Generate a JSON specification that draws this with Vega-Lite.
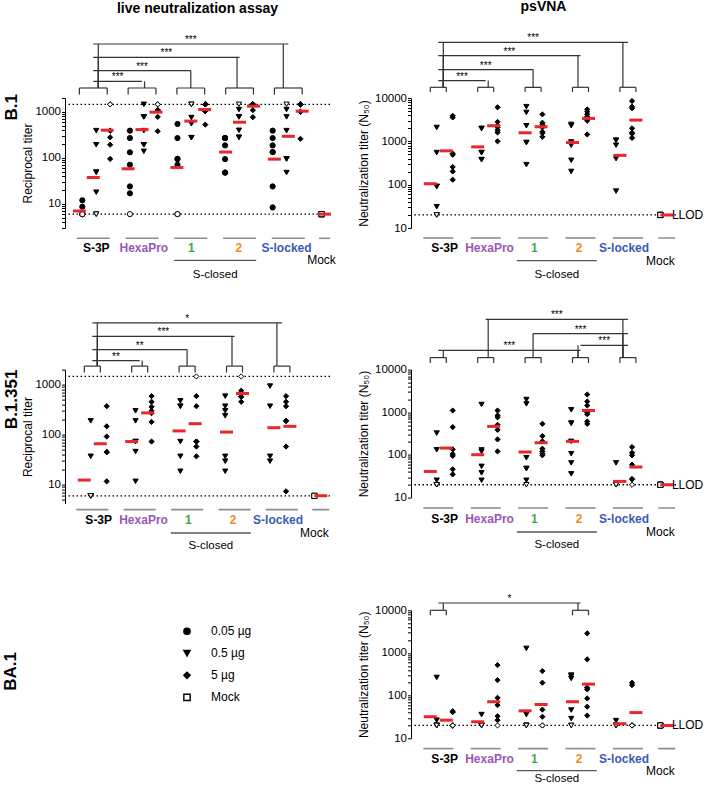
{
"$schema": "https://vega.github.io/schema/vega-lite/v6.json",
"padding": {"left": 2, "top": 0, "right": 0, "bottom": 0},
"config": {"font": "Liberation Sans", "view": {"stroke": null}},
"datasets": {
"g5": [{"g":"S-3P"},{"g":"HexaPro"},{"g":"1"},{"g":"2"},{"g":"S-locked"}],
"g2": [{"g":"S-3P"},{"g":"2"}],
"mk": [{"g":"Mock"}],
"c_b1": [{"a":0,"b":1,"l":1,"s":"***"},{"a":0,"b":2,"l":2,"s":"***"},{"a":0,"b":3,"l":3,"s":"***"},{"a":0,"b":4,"l":4,"s":"***"}],
"c_b3l": [{"a":0,"b":1,"l":1,"s":"**"},{"a":0,"b":2,"l":2,"s":"**"},{"a":0,"b":3,"l":3,"s":"***"},{"a":0,"b":4,"l":4,"s":"*"}],
"c_b3p": [{"a":0,"b":3,"l":1,"s":"***"},{"a":3,"b":4,"l":2,"s":"***"},{"a":2,"b":4,"l":3,"s":"***"},{"a":1,"b":4,"l":4,"s":"***"}],
"c_ba1": [{"a":0,"b":3,"l":1,"s":"*"}],
"sc": [{"a":2,"b":3,"s":"S-closed"}],
"b1lm": [{"g":"S-3P","d":"0.05 µg","v":7},{"g":"S-3P","d":"0.5 µg","v":37.5},{"g":"S-3P","d":"5 µg","v":400},{"g":"HexaPro","d":"0.05 µg","v":58},{"g":"HexaPro","d":"0.5 µg","v":411},{"g":"HexaPro","d":"5 µg","v":985},{"g":"1","d":"0.05 µg","v":62},{"g":"1","d":"0.5 µg","v":630},{"g":"1","d":"5 µg","v":1123},{"g":"2","d":"0.05 µg","v":134},{"g":"2","d":"0.5 µg","v":595},{"g":"2","d":"5 µg","v":1330},{"g":"S-locked","d":"0.05 µg","v":94},{"g":"S-locked","d":"0.5 µg","v":294},{"g":"S-locked","d":"5 µg","v":1035},{"g":"Mock","d":"Mock","v":6}],
"b1pm": [{"g":"S-3P","d":"0.5 µg","v":105},{"g":"S-3P","d":"5 µg","v":603},{"g":"HexaPro","d":"0.5 µg","v":745},{"g":"HexaPro","d":"5 µg","v":2290},{"g":"1","d":"0.5 µg","v":1575},{"g":"1","d":"5 µg","v":2170},{"g":"2","d":"0.5 µg","v":937},{"g":"2","d":"5 µg","v":3380},{"g":"S-locked","d":"0.5 µg","v":475},{"g":"S-locked","d":"5 µg","v":3090},{"g":"Mock","d":"Mock","v":20}],
"b3lm": [{"g":"S-3P","d":"0.5 µg","v":12.4},{"g":"S-3P","d":"5 µg","v":66},{"g":"HexaPro","d":"0.5 µg","v":73},{"g":"HexaPro","d":"5 µg","v":273},{"g":"1","d":"0.5 µg","v":119},{"g":"1","d":"5 µg","v":166},{"g":"2","d":"0.5 µg","v":113},{"g":"2","d":"5 µg","v":668},{"g":"S-locked","d":"0.5 µg","v":138},{"g":"S-locked","d":"5 µg","v":147},{"g":"Mock","d":"Mock","v":6}],
"b3pm": [{"g":"S-3P","d":"0.5 µg","v":41},{"g":"S-3P","d":"5 µg","v":145},{"g":"HexaPro","d":"0.5 µg","v":101},{"g":"HexaPro","d":"5 µg","v":466},{"g":"1","d":"0.5 µg","v":117},{"g":"1","d":"5 µg","v":193},{"g":"2","d":"0.5 µg","v":208},{"g":"2","d":"5 µg","v":1100},{"g":"S-locked","d":"0.5 µg","v":24},{"g":"S-locked","d":"5 µg","v":52},{"g":"Mock","d":"Mock","v":20}],
"ba1m": [{"g":"S-3P","d":"0.5 µg","v":32},{"g":"S-3P","d":"5 µg","v":26.6},{"g":"HexaPro","d":"0.5 µg","v":24.4},{"g":"HexaPro","d":"5 µg","v":72},{"g":"1","d":"0.5 µg","v":44},{"g":"1","d":"5 µg","v":62},{"g":"2","d":"0.5 µg","v":72},{"g":"2","d":"5 µg","v":186},{"g":"S-locked","d":"0.5 µg","v":22},{"g":"S-locked","d":"5 µg","v":40},{"g":"Mock","d":"Mock","v":20}],
"b1l": [
{"g":"S-3P","d":"0.05 µg","v":12},{"g":"S-3P","d":"0.05 µg","v":8.7},{"g":"S-3P","d":"0.05 µg","v":6,"c":1},{"g":"S-3P","d":"0.05 µg","v":6,"c":1},{"g":"S-3P","d":"0.05 µg","v":6,"c":1},{"g":"S-3P","d":"0.05 µg","v":6,"c":1},{"g":"S-3P","d":"0.05 µg","v":6,"c":1},
{"g":"S-3P","d":"0.5 µg","v":391},{"g":"S-3P","d":"0.5 µg","v":193},{"g":"S-3P","d":"0.5 µg","v":49},{"g":"S-3P","d":"0.5 µg","v":49},{"g":"S-3P","d":"0.5 µg","v":18},{"g":"S-3P","d":"0.5 µg","v":6,"c":1},{"g":"S-3P","d":"0.5 µg","v":6,"c":1},
{"g":"S-3P","d":"5 µg","v":1458,"c":1},{"g":"S-3P","d":"5 µg","v":1458,"c":1},{"g":"S-3P","d":"5 µg","v":391},{"g":"S-3P","d":"5 µg","v":391},{"g":"S-3P","d":"5 µg","v":280},{"g":"S-3P","d":"5 µg","v":193},{"g":"S-3P","d":"5 µg","v":95},
{"g":"HexaPro","d":"0.05 µg","v":391},{"g":"HexaPro","d":"0.05 µg","v":270},{"g":"HexaPro","d":"0.05 µg","v":132},{"g":"HexaPro","d":"0.05 µg","v":71},{"g":"HexaPro","d":"0.05 µg","v":24},{"g":"HexaPro","d":"0.05 µg","v":17},{"g":"HexaPro","d":"0.05 µg","v":6,"c":1},
{"g":"HexaPro","d":"0.5 µg","v":1458},{"g":"HexaPro","d":"0.5 µg","v":778},{"g":"HexaPro","d":"0.5 µg","v":778},{"g":"HexaPro","d":"0.5 µg","v":391},{"g":"HexaPro","d":"0.5 µg","v":193},{"g":"HexaPro","d":"0.5 µg","v":193},{"g":"HexaPro","d":"0.5 µg","v":139},
{"g":"HexaPro","d":"5 µg","v":1458,"c":1},{"g":"HexaPro","d":"5 µg","v":1458,"c":1},{"g":"HexaPro","d":"5 µg","v":1093},{"g":"HexaPro","d":"5 µg","v":1093},{"g":"HexaPro","d":"5 µg","v":1093},{"g":"HexaPro","d":"5 µg","v":778},{"g":"HexaPro","d":"5 µg","v":379},
{"g":"1","d":"0.05 µg","v":547},{"g":"1","d":"0.05 µg","v":270},{"g":"1","d":"0.05 µg","v":95},{"g":"1","d":"0.05 µg","v":95},{"g":"1","d":"0.05 µg","v":71},{"g":"1","d":"0.05 µg","v":6,"c":1},{"g":"1","d":"0.05 µg","v":6,"c":1},
{"g":"1","d":"0.5 µg","v":1458,"c":1},{"g":"1","d":"0.5 µg","v":1458,"c":1},{"g":"1","d":"0.5 µg","v":752},{"g":"1","d":"0.5 µg","v":556},{"g":"1","d":"0.5 µg","v":556},{"g":"1","d":"0.5 µg","v":275},{"g":"1","d":"0.5 µg","v":275},
{"g":"1","d":"5 µg","v":1458,"c":1},{"g":"1","d":"5 µg","v":1458,"c":1},{"g":"1","d":"5 µg","v":1458},{"g":"1","d":"5 µg","v":1458},{"g":"1","d":"5 µg","v":1035},{"g":"1","d":"5 µg","v":1035},{"g":"1","d":"5 µg","v":528},
{"g":"2","d":"0.05 µg","v":270},{"g":"2","d":"0.05 µg","v":270},{"g":"2","d":"0.05 µg","v":270},{"g":"2","d":"0.05 µg","v":187},{"g":"2","d":"0.05 µg","v":94},{"g":"2","d":"0.05 µg","v":48},{"g":"2","d":"0.05 µg","v":48},
{"g":"2","d":"0.5 µg","v":1458,"c":1},{"g":"2","d":"0.5 µg","v":1123},{"g":"2","d":"0.5 µg","v":778},{"g":"2","d":"0.5 µg","v":778},{"g":"2","d":"0.5 µg","v":398},{"g":"2","d":"0.5 µg","v":280},{"g":"2","d":"0.5 µg","v":280},
{"g":"2","d":"5 µg","v":1458,"c":1},{"g":"2","d":"5 µg","v":1458,"c":1},{"g":"2","d":"5 µg","v":1458},{"g":"2","d":"5 µg","v":1458},{"g":"2","d":"5 µg","v":1458},{"g":"2","d":"5 µg","v":1089},{"g":"2","d":"5 µg","v":766},
{"g":"S-locked","d":"0.05 µg","v":391},{"g":"S-locked","d":"0.05 µg","v":270},{"g":"S-locked","d":"0.05 µg","v":187},{"g":"S-locked","d":"0.05 µg","v":134},{"g":"S-locked","d":"0.05 µg","v":134},{"g":"S-locked","d":"0.05 µg","v":24},{"g":"S-locked","d":"0.05 µg","v":8.4},
{"g":"S-locked","d":"0.5 µg","v":1458,"c":1},{"g":"S-locked","d":"0.5 µg","v":1123},{"g":"S-locked","d":"0.5 µg","v":778},{"g":"S-locked","d":"0.5 µg","v":391},{"g":"S-locked","d":"0.5 µg","v":95},{"g":"S-locked","d":"0.5 µg","v":95},{"g":"S-locked","d":"0.5 µg","v":48},
{"g":"S-locked","d":"5 µg","v":1458,"c":1},{"g":"S-locked","d":"5 µg","v":1458,"c":1},{"g":"S-locked","d":"5 µg","v":1458},{"g":"S-locked","d":"5 µg","v":1458},{"g":"S-locked","d":"5 µg","v":1000},{"g":"S-locked","d":"5 µg","v":1000},{"g":"S-locked","d":"5 µg","v":260},
{"g":"Mock","d":"Mock","v":6,"c":1},{"g":"Mock","d":"Mock","v":6,"c":1},{"g":"Mock","d":"Mock","v":6,"c":1},{"g":"Mock","d":"Mock","v":6,"c":1}],
"b1p": [
{"g":"S-3P","d":"0.5 µg","v":2090},{"g":"S-3P","d":"0.5 µg","v":550},{"g":"S-3P","d":"0.5 µg","v":91},{"g":"S-3P","d":"0.5 µg","v":91},{"g":"S-3P","d":"0.5 µg","v":31},{"g":"S-3P","d":"0.5 µg","v":20,"c":1},{"g":"S-3P","d":"0.5 µg","v":20,"c":1},
{"g":"S-3P","d":"5 µg","v":3890},{"g":"S-3P","d":"5 µg","v":3560},{"g":"S-3P","d":"5 µg","v":521},{"g":"S-3P","d":"5 µg","v":490},{"g":"S-3P","d":"5 µg","v":256},{"g":"S-3P","d":"5 µg","v":202},{"g":"S-3P","d":"5 µg","v":130},
{"g":"HexaPro","d":"0.5 µg","v":1980},{"g":"HexaPro","d":"0.5 µg","v":1980},{"g":"HexaPro","d":"0.5 µg","v":550},{"g":"HexaPro","d":"0.5 µg","v":550},{"g":"HexaPro","d":"0.5 µg","v":378},{"g":"HexaPro","d":"0.5 µg","v":378},
{"g":"HexaPro","d":"5 µg","v":6100},{"g":"HexaPro","d":"5 µg","v":2800},{"g":"HexaPro","d":"5 µg","v":2300},{"g":"HexaPro","d":"5 µg","v":2100},{"g":"HexaPro","d":"5 µg","v":1800},{"g":"HexaPro","d":"5 µg","v":1600},{"g":"HexaPro","d":"5 µg","v":1000},
{"g":"1","d":"0.5 µg","v":6310},{"g":"1","d":"0.5 µg","v":4650},{"g":"1","d":"0.5 µg","v":2290},{"g":"1","d":"0.5 µg","v":937},{"g":"1","d":"0.5 µg","v":937},{"g":"1","d":"0.5 µg","v":290},
{"g":"1","d":"5 µg","v":4190},{"g":"1","d":"5 µg","v":2690},{"g":"1","d":"5 µg","v":2400},{"g":"1","d":"5 µg","v":2100},{"g":"1","d":"5 µg","v":1660},{"g":"1","d":"5 µg","v":1550},{"g":"1","d":"5 µg","v":1270},
{"g":"2","d":"0.5 µg","v":2460},{"g":"2","d":"0.5 µg","v":2300},{"g":"2","d":"0.5 µg","v":970},{"g":"2","d":"0.5 µg","v":813},{"g":"2","d":"0.5 µg","v":365},{"g":"2","d":"0.5 µg","v":202},
{"g":"2","d":"5 µg","v":5470},{"g":"2","d":"5 µg","v":4830},{"g":"2","d":"5 µg","v":4200},{"g":"2","d":"5 µg","v":3700},{"g":"2","d":"5 µg","v":3200},{"g":"2","d":"5 µg","v":2990},{"g":"2","d":"5 µg","v":1440},
{"g":"S-locked","d":"0.5 µg","v":1060},{"g":"S-locked","d":"0.5 µg","v":1060},{"g":"S-locked","d":"0.5 µg","v":813},{"g":"S-locked","d":"0.5 µg","v":399},{"g":"S-locked","d":"0.5 µg","v":71},
{"g":"S-locked","d":"5 µg","v":8500},{"g":"S-locked","d":"5 µg","v":6300},{"g":"S-locked","d":"5 µg","v":5800},{"g":"S-locked","d":"5 µg","v":2000},{"g":"S-locked","d":"5 µg","v":1600},{"g":"S-locked","d":"5 µg","v":1500},{"g":"S-locked","d":"5 µg","v":1200},
{"g":"Mock","d":"Mock","v":20,"c":1},{"g":"Mock","d":"Mock","v":20,"c":1},{"g":"Mock","d":"Mock","v":20,"c":1},{"g":"Mock","d":"Mock","v":20,"c":1}],
"b3l": [
{"g":"S-3P","d":"0.5 µg","v":189},{"g":"S-3P","d":"0.5 µg","v":37},{"g":"S-3P","d":"0.5 µg","v":6,"c":1},{"g":"S-3P","d":"0.5 µg","v":6,"c":1},{"g":"S-3P","d":"0.5 µg","v":6,"c":1},{"g":"S-3P","d":"0.5 µg","v":6,"c":1},{"g":"S-3P","d":"0.5 µg","v":6,"c":1},
{"g":"S-3P","d":"5 µg","v":371},{"g":"S-3P","d":"5 µg","v":147},{"g":"S-3P","d":"5 µg","v":92},{"g":"S-3P","d":"5 µg","v":45},{"g":"S-3P","d":"5 µg","v":45},{"g":"S-3P","d":"5 µg","v":45},{"g":"S-3P","d":"5 µg","v":11.7},
{"g":"HexaPro","d":"0.5 µg","v":300},{"g":"HexaPro","d":"0.5 µg","v":189},{"g":"HexaPro","d":"0.5 µg","v":73},{"g":"HexaPro","d":"0.5 µg","v":73},{"g":"HexaPro","d":"0.5 µg","v":46},{"g":"HexaPro","d":"0.5 µg","v":11.7},
{"g":"HexaPro","d":"5 µg","v":590},{"g":"HexaPro","d":"5 µg","v":455},{"g":"HexaPro","d":"5 µg","v":361},{"g":"HexaPro","d":"5 µg","v":300},{"g":"HexaPro","d":"5 µg","v":270},{"g":"HexaPro","d":"5 µg","v":180},{"g":"HexaPro","d":"5 µg","v":73},
{"g":"1","d":"0.5 µg","v":476},{"g":"1","d":"0.5 µg","v":371},{"g":"1","d":"0.5 µg","v":371},{"g":"1","d":"0.5 µg","v":73},{"g":"1","d":"0.5 µg","v":37},{"g":"1","d":"0.5 µg","v":18.6},
{"g":"1","d":"5 µg","v":1458,"c":1},{"g":"1","d":"5 µg","v":590},{"g":"1","d":"5 µg","v":371},{"g":"1","d":"5 µg","v":73},{"g":"1","d":"5 µg","v":73},{"g":"1","d":"5 µg","v":58},{"g":"1","d":"5 µg","v":37},
{"g":"2","d":"0.5 µg","v":590},{"g":"2","d":"0.5 µg","v":371},{"g":"2","d":"0.5 µg","v":300},{"g":"2","d":"0.5 µg","v":238},{"g":"2","d":"0.5 µg","v":37},{"g":"2","d":"0.5 µg","v":29.6},{"g":"2","d":"0.5 µg","v":18.6},
{"g":"2","d":"5 µg","v":1458,"c":1},{"g":"2","d":"5 µg","v":757},{"g":"2","d":"5 µg","v":668},{"g":"2","d":"5 µg","v":668},{"g":"2","d":"5 µg","v":573},{"g":"2","d":"5 µg","v":573},{"g":"2","d":"5 µg","v":455},
{"g":"S-locked","d":"0.5 µg","v":937},{"g":"S-locked","d":"0.5 µg","v":371},{"g":"S-locked","d":"0.5 µg","v":37},{"g":"S-locked","d":"0.5 µg","v":29.6},
{"g":"S-locked","d":"5 µg","v":590},{"g":"S-locked","d":"5 µg","v":455},{"g":"S-locked","d":"5 µg","v":371},{"g":"S-locked","d":"5 µg","v":189},{"g":"S-locked","d":"5 µg","v":189},{"g":"S-locked","d":"5 µg","v":58},{"g":"S-locked","d":"5 µg","v":7.4},
{"g":"Mock","d":"Mock","v":6,"c":1},{"g":"Mock","d":"Mock","v":6,"c":1}],
"b3p": [
{"g":"S-3P","d":"0.5 µg","v":325},{"g":"S-3P","d":"0.5 µg","v":132},{"g":"S-3P","d":"0.5 µg","v":25.5},{"g":"S-3P","d":"0.5 µg","v":20,"c":1},{"g":"S-3P","d":"0.5 µg","v":20,"c":1},{"g":"S-3P","d":"0.5 µg","v":20,"c":1},{"g":"S-3P","d":"0.5 µg","v":20,"c":1},
{"g":"S-3P","d":"5 µg","v":1100},{"g":"S-3P","d":"5 µg","v":449},{"g":"S-3P","d":"5 µg","v":135},{"g":"S-3P","d":"5 µg","v":105},{"g":"S-3P","d":"5 µg","v":95},{"g":"S-3P","d":"5 µg","v":46},{"g":"S-3P","d":"5 µg","v":35},
{"g":"HexaPro","d":"0.5 µg","v":1520},{"g":"HexaPro","d":"0.5 µg","v":131},{"g":"HexaPro","d":"0.5 µg","v":121},{"g":"HexaPro","d":"0.5 µg","v":54},{"g":"HexaPro","d":"0.5 µg","v":38},{"g":"HexaPro","d":"0.5 µg","v":25.5},
{"g":"HexaPro","d":"5 µg","v":1100},{"g":"HexaPro","d":"5 µg","v":841},{"g":"HexaPro","d":"5 µg","v":760},{"g":"HexaPro","d":"5 µg","v":508},{"g":"HexaPro","d":"5 µg","v":388},{"g":"HexaPro","d":"5 µg","v":231},{"g":"HexaPro","d":"5 µg","v":121},
{"g":"1","d":"0.5 µg","v":1990},{"g":"1","d":"0.5 µg","v":1570},{"g":"1","d":"0.5 µg","v":86},{"g":"1","d":"0.5 µg","v":48},{"g":"1","d":"0.5 µg","v":48},{"g":"1","d":"0.5 µg","v":25.5},{"g":"1","d":"0.5 µg","v":20,"c":1},
{"g":"1","d":"5 µg","v":535},{"g":"1","d":"5 µg","v":277},{"g":"1","d":"5 µg","v":208},{"g":"1","d":"5 µg","v":140},{"g":"1","d":"5 µg","v":121},{"g":"1","d":"5 µg","v":107},{"g":"1","d":"5 µg","v":98},
{"g":"2","d":"0.5 µg","v":1140},{"g":"2","d":"0.5 µg","v":556},{"g":"2","d":"0.5 µg","v":556},{"g":"2","d":"0.5 µg","v":208},{"g":"2","d":"0.5 µg","v":107},{"g":"2","d":"0.5 µg","v":65},{"g":"2","d":"0.5 µg","v":36},
{"g":"2","d":"5 µg","v":2610},{"g":"2","d":"5 µg","v":1790},{"g":"2","d":"5 µg","v":1440},{"g":"2","d":"5 µg","v":1000},{"g":"2","d":"5 µg","v":900},{"g":"2","d":"5 µg","v":610},{"g":"2","d":"5 µg","v":535},
{"g":"S-locked","d":"0.5 µg","v":65},{"g":"S-locked","d":"0.5 µg","v":22},{"g":"S-locked","d":"0.5 µg","v":20,"c":1},{"g":"S-locked","d":"0.5 µg","v":20,"c":1},{"g":"S-locked","d":"0.5 µg","v":20,"c":1},{"g":"S-locked","d":"0.5 µg","v":20,"c":1},
{"g":"S-locked","d":"5 µg","v":153},{"g":"S-locked","d":"5 µg","v":112},{"g":"S-locked","d":"5 µg","v":98},{"g":"S-locked","d":"5 µg","v":59},{"g":"S-locked","d":"5 µg","v":27},{"g":"S-locked","d":"5 µg","v":27},{"g":"S-locked","d":"5 µg","v":20,"c":1},
{"g":"Mock","d":"Mock","v":20,"c":1},{"g":"Mock","d":"Mock","v":20,"c":1},{"g":"Mock","d":"Mock","v":20,"c":1},{"g":"Mock","d":"Mock","v":20,"c":1}],
"ba1": [
{"g":"S-3P","d":"0.5 µg","v":267},{"g":"S-3P","d":"0.5 µg","v":26.6},{"g":"S-3P","d":"0.5 µg","v":20,"c":1},{"g":"S-3P","d":"0.5 µg","v":20,"c":1},{"g":"S-3P","d":"0.5 µg","v":20,"c":1},{"g":"S-3P","d":"0.5 µg","v":20,"c":1},{"g":"S-3P","d":"0.5 µg","v":20,"c":1},
{"g":"S-3P","d":"5 µg","v":43},{"g":"S-3P","d":"5 µg","v":41},{"g":"S-3P","d":"5 µg","v":20,"c":1},{"g":"S-3P","d":"5 µg","v":20,"c":1},{"g":"S-3P","d":"5 µg","v":20,"c":1},{"g":"S-3P","d":"5 µg","v":20,"c":1},{"g":"S-3P","d":"5 µg","v":20,"c":1},
{"g":"HexaPro","d":"0.5 µg","v":36},{"g":"HexaPro","d":"0.5 µg","v":20,"c":1},{"g":"HexaPro","d":"0.5 µg","v":20,"c":1},{"g":"HexaPro","d":"0.5 µg","v":20,"c":1},{"g":"HexaPro","d":"0.5 µg","v":20,"c":1},{"g":"HexaPro","d":"0.5 µg","v":20,"c":1},
{"g":"HexaPro","d":"5 µg","v":520},{"g":"HexaPro","d":"5 µg","v":231},{"g":"HexaPro","d":"5 µg","v":89},{"g":"HexaPro","d":"5 µg","v":60},{"g":"HexaPro","d":"5 µg","v":33},{"g":"HexaPro","d":"5 µg","v":26.6},{"g":"HexaPro","d":"5 µg","v":20,"c":1},
{"g":"1","d":"0.5 µg","v":1280},{"g":"1","d":"0.5 µg","v":36},{"g":"1","d":"0.5 µg","v":20,"c":1},{"g":"1","d":"0.5 µg","v":20,"c":1},{"g":"1","d":"0.5 µg","v":20,"c":1},{"g":"1","d":"0.5 µg","v":20,"c":1},
{"g":"1","d":"5 µg","v":376},{"g":"1","d":"5 µg","v":201},{"g":"1","d":"5 µg","v":47},{"g":"1","d":"5 µg","v":32},{"g":"1","d":"5 µg","v":20,"c":1},{"g":"1","d":"5 µg","v":20,"c":1},
{"g":"2","d":"0.5 µg","v":303},{"g":"2","d":"0.5 µg","v":290},{"g":"2","d":"0.5 µg","v":253},{"g":"2","d":"0.5 µg","v":46},{"g":"2","d":"0.5 µg","v":29},{"g":"2","d":"0.5 µg","v":20,"c":1},{"g":"2","d":"0.5 µg","v":20,"c":1},
{"g":"2","d":"5 µg","v":2880},{"g":"2","d":"5 µg","v":708},{"g":"2","d":"5 µg","v":153},{"g":"2","d":"5 µg","v":153},{"g":"2","d":"5 µg","v":140},{"g":"2","d":"5 µg","v":86},{"g":"2","d":"5 µg","v":55},{"g":"2","d":"5 µg","v":34},
{"g":"S-locked","d":"0.5 µg","v":26},{"g":"S-locked","d":"0.5 µg","v":20,"c":1},{"g":"S-locked","d":"0.5 µg","v":20,"c":1},{"g":"S-locked","d":"0.5 µg","v":20,"c":1},{"g":"S-locked","d":"0.5 µg","v":20,"c":1},
{"g":"S-locked","d":"5 µg","v":201},{"g":"S-locked","d":"5 µg","v":177},{"g":"S-locked","d":"5 µg","v":20,"c":1},{"g":"S-locked","d":"5 µg","v":20,"c":1},{"g":"S-locked","d":"5 µg","v":20,"c":1},{"g":"S-locked","d":"5 µg","v":20,"c":1},{"g":"S-locked","d":"5 µg","v":20,"c":1},
{"g":"Mock","d":"Mock","v":20,"c":1},{"g":"Mock","d":"Mock","v":20,"c":1},{"g":"Mock","d":"Mock","v":20,"c":1},{"g":"Mock","d":"Mock","v":20,"c":1}]
},
"bounds": "flush",
"spacing": 271.6,
"vconcat": [
{
"title": {"text": "B.1", "orient": "left", "anchor": "end", "frame": "group", "fontSize": 17, "fontWeight": "bold", "offset": 1, "dx": 4},
"bounds": "flush", "spacing": 81,
"hconcat": [
{
"width": 265, "height": 130,
"title": {"text": "live neutralization assay", "fontSize": 14, "fontWeight": "bold", "offset": 19},
"resolve": {"scale": {"x": "independent", "y": "independent"}},
"layer": [
{"data": {"values": [{}]}, "mark": {"type": "rule", "strokeDash": [1.5, 2.5], "strokeWidth": 1.3, "color": "black"}, "encoding": {"y": {"datum": 1458, "type": "quantitative", "scale": {"type": "log", "domain": [3, 2000], "nice": false}, "axis": null}}},
{"data": {"values": [{}]}, "mark": {"type": "rule", "strokeDash": [1.5, 2.5], "strokeWidth": 1.3, "color": "black"}, "encoding": {"y": {"datum": 6, "type": "quantitative", "scale": {"type": "log", "domain": [3, 2000], "nice": false}, "axis": null}}},
{"data": {"name": "b1l"}, "transform": [{"filter": "datum.d === '0.05 µg'"}], "mark": {"type": "point", "filled": true, "stroke": "black", "strokeWidth": 1, "size": 27, "opacity": 1, "xOffset": -13.9},
 "encoding": {"x": {"field": "g", "type": "nominal", "scale": {"domain": ["S-3P","HexaPro","1","2","S-locked","Mock"], "range": [7.45, 292.9], "paddingInner": 0.145, "paddingOuter": 0}, "axis": null},
  "y": {"field": "v", "type": "quantitative", "scale": {"type": "log", "domain": [3, 2000], "nice": false}, "axis": {"orient": "left", "title": "Reciprocal titer", "values": [3,4,5,6,7,8,9,10,20,30,40,50,60,70,80,90,100,200,300,400,500,600,700,800,900,1000,2000], "format": "d", "labelExpr": "indexof([10,100,1000,10000], datum.value) >= 0 ? datum.label : ''", "tickSize": 3.5, "grid": false, "labelFlush": false, "labelOverlap": false, "domainColor": "black", "tickColor": "black", "labelColor": "black", "titleColor": "black", "labelFontSize": 11.5, "titleFontSize": 12, "titleFontWeight": "normal", "labelPadding": 1, "titlePadding": 0}},
  "shape": {"field": "d", "type": "nominal", "scale": {"domain": ["0.05 µg","0.5 µg","5 µg","Mock"], "range": ["circle","triangle-down","diamond","square"]}, "legend": null},
  "fill": {"condition": {"test": "datum.c", "value": "white"}, "value": "black"}}},
{"data": {"name": "b1l"}, "transform": [{"filter": "datum.d === '0.5 µg'"}], "mark": {"type": "point", "filled": true, "stroke": "black", "strokeWidth": 1, "size": 27, "opacity": 1},
 "encoding": {"x": {"field": "g", "type": "nominal", "scale": {"domain": ["S-3P","HexaPro","1","2","S-locked","Mock"], "range": [7.45, 292.9], "paddingInner": 0.145, "paddingOuter": 0}, "axis": null},
  "y": {"field": "v", "type": "quantitative", "scale": {"type": "log", "domain": [3, 2000], "nice": false}, "axis": null},
  "shape": {"field": "d", "type": "nominal", "scale": {"domain": ["0.05 µg","0.5 µg","5 µg","Mock"], "range": ["circle","triangle-down","diamond","square"]}, "legend": null},
  "fill": {"condition": {"test": "datum.c", "value": "white"}, "value": "black"}}},
{"data": {"name": "b1l"}, "transform": [{"filter": "datum.d === '5 µg'"}], "mark": {"type": "point", "filled": true, "stroke": "black", "strokeWidth": 1, "size": 27, "opacity": 1, "xOffset": 13.9},
 "encoding": {"x": {"field": "g", "type": "nominal", "scale": {"domain": ["S-3P","HexaPro","1","2","S-locked","Mock"], "range": [7.45, 292.9], "paddingInner": 0.145, "paddingOuter": 0}, "axis": null},
  "y": {"field": "v", "type": "quantitative", "scale": {"type": "log", "domain": [3, 2000], "nice": false}, "axis": null},
  "shape": {"field": "d", "type": "nominal", "scale": {"domain": ["0.05 µg","0.5 µg","5 µg","Mock"], "range": ["circle","triangle-down","diamond","square"]}, "legend": null},
  "fill": {"condition": {"test": "datum.c", "value": "white"}, "value": "black"}}},
{"data": {"name": "b1l"}, "transform": [{"filter": "datum.g === 'Mock'"}], "mark": {"type": "point", "filled": true, "stroke": "black", "strokeWidth": 1, "size": 27, "opacity": 1, "xOffset": -12.6},
 "encoding": {"x": {"field": "g", "type": "nominal", "scale": {"domain": ["S-3P","HexaPro","1","2","S-locked","Mock"], "range": [7.45, 292.9], "paddingInner": 0.145, "paddingOuter": 0}, "axis": null},
  "y": {"field": "v", "type": "quantitative", "scale": {"type": "log", "domain": [3, 2000], "nice": false}, "axis": null},
  "shape": {"field": "d", "type": "nominal", "scale": {"domain": ["0.05 µg","0.5 µg","5 µg","Mock"], "range": ["circle","triangle-down","diamond","square"]}, "legend": null},
  "fill": {"value": "white"}}},
{"data": {"name": "b1lm"}, "transform": [{"filter": "datum.d === '0.05 µg'"}], "mark": {"type": "tick", "orient": "horizontal", "color": "#e8262b", "thickness": 3, "size": 13, "opacity": 1, "xOffset": -13.9},
 "encoding": {"x": {"field": "g", "type": "nominal", "scale": {"domain": ["S-3P","HexaPro","1","2","S-locked","Mock"], "range": [7.45, 292.9], "paddingInner": 0.145, "paddingOuter": 0}, "axis": null},
  "y": {"field": "v", "type": "quantitative", "scale": {"type": "log", "domain": [3, 2000], "nice": false}, "axis": null}}},
{"data": {"name": "b1lm"}, "transform": [{"filter": "datum.d === '0.5 µg'"}], "mark": {"type": "tick", "orient": "horizontal", "color": "#e8262b", "thickness": 3, "size": 13, "opacity": 1},
 "encoding": {"x": {"field": "g", "type": "nominal", "scale": {"domain": ["S-3P","HexaPro","1","2","S-locked","Mock"], "range": [7.45, 292.9], "paddingInner": 0.145, "paddingOuter": 0}, "axis": null},
  "y": {"field": "v", "type": "quantitative", "scale": {"type": "log", "domain": [3, 2000], "nice": false}, "axis": null}}},
{"data": {"name": "b1lm"}, "transform": [{"filter": "datum.d === '5 µg'"}], "mark": {"type": "tick", "orient": "horizontal", "color": "#e8262b", "thickness": 3, "size": 13, "opacity": 1, "xOffset": 13.9},
 "encoding": {"x": {"field": "g", "type": "nominal", "scale": {"domain": ["S-3P","HexaPro","1","2","S-locked","Mock"], "range": [7.45, 292.9], "paddingInner": 0.145, "paddingOuter": 0}, "axis": null},
  "y": {"field": "v", "type": "quantitative", "scale": {"type": "log", "domain": [3, 2000], "nice": false}, "axis": null}}},
{"data": {"name": "b1lm"}, "transform": [{"filter": "datum.g === 'Mock'"}], "mark": {"type": "tick", "orient": "horizontal", "color": "#e8262b", "thickness": 3, "size": 13, "opacity": 1, "xOffset": -12.6},
 "encoding": {"x": {"field": "g", "type": "nominal", "scale": {"domain": ["S-3P","HexaPro","1","2","S-locked","Mock"], "range": [7.45, 292.9], "paddingInner": 0.145, "paddingOuter": 0}, "axis": null},
  "y": {"field": "v", "type": "quantitative", "scale": {"type": "log", "domain": [3, 2000], "nice": false}, "axis": null}}},
{"data": {"name": "g5"}, "mark": {"type": "tick", "orient": "horizontal", "color": "#333", "thickness": 1.2, "size": 27.8, "opacity": 1},
 "encoding": {"x": {"field": "g", "type": "nominal", "scale": {"domain": ["S-3P","HexaPro","1","2","S-locked","Mock"], "range": [7.45, 292.9], "paddingInner": 0.145, "paddingOuter": 0}, "axis": null},
  "y": {"datum": 0, "type": "quantitative", "scale": {"domain": [-14,-13,-12,-11,-1,0,1,2,3,4], "range": [177.3,162.3,150.3,140.3,-3.4,-10,-16.7,-27.4,-40.7,-54], "nice": false, "zero": true}, "axis": null}}},
{"data": {"name": "g5"}, "mark": {"type": "tick", "orient": "vertical", "color": "#333", "thickness": 1.2, "size": 6.6, "opacity": 1, "xOffset": -13.9},
 "encoding": {"x": {"field": "g", "type": "nominal", "scale": {"domain": ["S-3P","HexaPro","1","2","S-locked","Mock"], "range": [7.45, 292.9], "paddingInner": 0.145, "paddingOuter": 0}, "axis": null},
  "y": {"datum": -0.5, "type": "quantitative", "scale": {"domain": [-14,-13,-12,-11,-1,0,1,2,3,4], "range": [177.3,162.3,150.3,140.3,-3.4,-10,-16.7,-27.4,-40.7,-54], "nice": false, "zero": true}, "axis": null}}},
{"data": {"name": "g5"}, "mark": {"type": "tick", "orient": "vertical", "color": "#333", "thickness": 1.2, "size": 6.6, "opacity": 1, "xOffset": 13.9},
 "encoding": {"x": {"field": "g", "type": "nominal", "scale": {"domain": ["S-3P","HexaPro","1","2","S-locked","Mock"], "range": [7.45, 292.9], "paddingInner": 0.145, "paddingOuter": 0}, "axis": null},
  "y": {"datum": -0.5, "type": "quantitative", "scale": {"domain": [-14,-13,-12,-11,-1,0,1,2,3,4], "range": [177.3,162.3,150.3,140.3,-3.4,-10,-16.7,-27.4,-40.7,-54], "nice": false, "zero": true}, "axis": null}}},
{"data": {"name": "g5"}, "mark": {"type": "tick", "orient": "horizontal", "color": "#8c8c8c", "thickness": 1.6, "size": 33, "opacity": 1},
 "encoding": {"x": {"field": "g", "type": "nominal", "scale": {"domain": ["S-3P","HexaPro","1","2","S-locked","Mock"], "range": [7.45, 292.9], "paddingInner": 0.145, "paddingOuter": 0}, "axis": null},
  "y": {"datum": -11, "type": "quantitative", "scale": {"domain": [-14,-13,-12,-11,-1,0,1,2,3,4], "range": [177.3,162.3,150.3,140.3,-3.4,-10,-16.7,-27.4,-40.7,-54], "nice": false, "zero": true}, "axis": null}}},
{"data": {"name": "mk"}, "mark": {"type": "tick", "orient": "horizontal", "color": "#8c8c8c", "thickness": 1.6, "size": 11, "opacity": 1, "xOffset": -12.6},
 "encoding": {"x": {"field": "g", "type": "nominal", "scale": {"domain": ["S-3P","HexaPro","1","2","S-locked","Mock"], "range": [7.45, 292.9], "paddingInner": 0.145, "paddingOuter": 0}, "axis": null},
  "y": {"datum": -11, "type": "quantitative", "scale": {"domain": [-14,-13,-12,-11,-1,0,1,2,3,4], "range": [177.3,162.3,150.3,140.3,-3.4,-10,-16.7,-27.4,-40.7,-54], "nice": false, "zero": true}, "axis": null}}},
{"data": {"name": "g5"}, "mark": {"type": "text", "fontSize": 12, "fontWeight": "bold", "baseline": "middle"},
 "encoding": {"x": {"field": "g", "type": "nominal", "scale": {"domain": ["S-3P","HexaPro","1","2","S-locked","Mock"], "range": [7.45, 292.9], "paddingInner": 0.145, "paddingOuter": 0}, "axis": null},
  "y": {"datum": -12, "type": "quantitative", "scale": {"domain": [-14,-13,-12,-11,-1,0,1,2,3,4], "range": [177.3,162.3,150.3,140.3,-3.4,-10,-16.7,-27.4,-40.7,-54], "nice": false, "zero": true}, "axis": null},
  "text": {"field": "g"},
  "color": {"field": "g", "type": "nominal", "scale": {"domain": ["S-3P","HexaPro","1","2","S-locked"], "range": ["#000000","#9d57b4","#3aa84a","#f28a21","#3b5bb5"]}, "legend": null}}},
{"data": {"name": "mk"}, "mark": {"type": "text", "fontSize": 12, "baseline": "middle", "color": "black", "xOffset": -12.6},
 "encoding": {"x": {"field": "g", "type": "nominal", "scale": {"domain": ["S-3P","HexaPro","1","2","S-locked","Mock"], "range": [7.45, 292.9], "paddingInner": 0.145, "paddingOuter": 0}, "axis": null},
  "y": {"datum": -13, "type": "quantitative", "scale": {"domain": [-14,-13,-12,-11,-1,0,1,2,3,4], "range": [177.3,162.3,150.3,140.3,-3.4,-10,-16.7,-27.4,-40.7,-54], "nice": false, "zero": true}, "axis": null},
  "text": {"field": "g"}}},
{"data": {"name": "c_b1"}, "mark": {"type": "rule", "color": "#333", "strokeWidth": 1.2},
 "encoding": {"x": {"field": "a", "type": "quantitative", "scale": {"domain": [0, 4], "range": [28.3, 223.3], "nice": false, "zero": false}, "axis": null}, "x2": {"field": "b"},
  "y": {"field": "l", "type": "quantitative", "scale": {"domain": [-14,-13,-12,-11,-1,0,1,2,3,4], "range": [177.3,162.3,150.3,140.3,-3.4,-10,-16.7,-27.4,-40.7,-54], "nice": false, "zero": true}, "axis": null}}},
{"data": {"name": "c_b1"}, "transform": [{"fold": ["a","b"], "as": ["k","gi"]}], "mark": {"type": "bar", "color": "#333", "size": 1.2},
 "encoding": {"x": {"field": "gi", "type": "quantitative", "scale": {"domain": [0, 4], "range": [28.3, 223.3], "nice": false, "zero": false}, "axis": null},
  "y": {"field": "l", "type": "quantitative", "stack": null, "scale": {"domain": [-14,-13,-12,-11,-1,0,1,2,3,4], "range": [177.3,162.3,150.3,140.3,-3.4,-10,-16.7,-27.4,-40.7,-54], "nice": false, "zero": true}, "axis": null}}},
{"data": {"name": "c_b1"}, "transform": [{"fold": ["a","b"], "as": ["k","gi"]}, {"aggregate": [{"op": "mean", "field": "gi", "as": "m"}], "groupby": ["l","s"]}], "mark": {"type": "text", "fontSize": 10, "baseline": "alphabetic", "dy": -1, "color": "black"},
 "encoding": {"x": {"field": "m", "type": "quantitative", "scale": {"domain": [0, 4], "range": [28.3, 223.3], "nice": false, "zero": false}, "axis": null},
  "y": {"field": "l", "type": "quantitative", "scale": {"domain": [-14,-13,-12,-11,-1,0,1,2,3,4], "range": [177.3,162.3,150.3,140.3,-3.4,-10,-16.7,-27.4,-40.7,-54], "nice": false, "zero": true}, "axis": null}, "text": {"field": "s"}}},
{"data": {"name": "sc"}, "transform": [{"fold": ["a","b"], "as": ["k","gi"]}, {"aggregate": [{"op": "mean", "field": "gi", "as": "m"}], "groupby": ["s"]}], "mark": {"type": "tick", "orient": "horizontal", "size": 82, "thickness": 1.3, "color": "#555", "opacity": 1},
 "encoding": {"x": {"field": "m", "type": "quantitative", "scale": {"domain": [0, 4], "range": [28.3, 223.3], "nice": false, "zero": false}, "axis": null},
  "y": {"datum": -13, "type": "quantitative", "scale": {"domain": [-14,-13,-12,-11,-1,0,1,2,3,4], "range": [177.3,162.3,150.3,140.3,-3.4,-10,-16.7,-27.4,-40.7,-54], "nice": false, "zero": true}, "axis": null}}},
{"data": {"name": "sc"}, "transform": [{"fold": ["a","b"], "as": ["k","gi"]}, {"aggregate": [{"op": "mean", "field": "gi", "as": "m"}], "groupby": ["s"]}], "mark": {"type": "text", "fontSize": 11.5, "baseline": "middle", "color": "black"},
 "encoding": {"x": {"field": "m", "type": "quantitative", "scale": {"domain": [0, 4], "range": [28.3, 223.3], "nice": false, "zero": false}, "axis": null},
  "y": {"datum": -14, "type": "quantitative", "scale": {"domain": [-14,-13,-12,-11,-1,0,1,2,3,4], "range": [177.3,162.3,150.3,140.3,-3.4,-10,-16.7,-27.4,-40.7,-54], "nice": false, "zero": true}, "axis": null}, "text": {"field": "s"}}}
]
},
{
"width": 265, "height": 130,
"title": {"text": "psVNA", "fontSize": 14, "fontWeight": "bold", "offset": 19},
"resolve": {"scale": {"x": "independent", "y": "independent"}},
"layer": [
{"data": {"values": [{}]}, "mark": {"type": "rule", "strokeDash": [1.5, 2.5], "strokeWidth": 1.3, "color": "black"}, "encoding": {"y": {"datum": 20, "type": "quantitative", "scale": {"type": "log", "domain": [10, 10000], "nice": false}, "axis": null}}},
{"data": {"name": "b1p"}, "transform": [{"filter": "datum.d === '0.5 µg'"}], "mark": {"type": "point", "filled": true, "stroke": "black", "strokeWidth": 1, "size": 27, "opacity": 1, "xOffset": -8},
 "encoding": {"x": {"field": "g", "type": "nominal", "scale": {"domain": ["S-3P","HexaPro","1","2","S-locked","Mock"], "range": [11.3, 280.3], "paddingInner": 0.325, "paddingOuter": 0}, "axis": null},
  "y": {"field": "v", "type": "quantitative", "scale": {"type": "log", "domain": [10, 10000], "nice": false}, "axis": {"orient": "left", "title": "Neutralization titer (N₅₀)", "values": [10,20,30,40,50,60,70,80,90,100,200,300,400,500,600,700,800,900,1000,2000,3000,4000,5000,6000,7000,8000,9000,10000], "format": "d", "labelExpr": "indexof([10,100,1000,10000], datum.value) >= 0 ? datum.label : ''", "tickSize": 3.5, "grid": false, "labelFlush": false, "labelOverlap": false, "domainColor": "black", "tickColor": "black", "labelColor": "black", "titleColor": "black", "labelFontSize": 11.5, "titleFontSize": 12, "titleFontWeight": "normal", "labelPadding": 1, "titlePadding": 4}},
  "shape": {"field": "d", "type": "nominal", "scale": {"domain": ["0.05 µg","0.5 µg","5 µg","Mock"], "range": ["circle","triangle-down","diamond","square"]}, "legend": null},
  "fill": {"condition": {"test": "datum.c", "value": "white"}, "value": "black"}}},
{"data": {"name": "b1p"}, "transform": [{"filter": "datum.d === '5 µg'"}], "mark": {"type": "point", "filled": true, "stroke": "black", "strokeWidth": 1, "size": 27, "opacity": 1, "xOffset": 8},
 "encoding": {"x": {"field": "g", "type": "nominal", "scale": {"domain": ["S-3P","HexaPro","1","2","S-locked","Mock"], "range": [11.3, 280.3], "paddingInner": 0.325, "paddingOuter": 0}, "axis": null},
  "y": {"field": "v", "type": "quantitative", "scale": {"type": "log", "domain": [10, 10000], "nice": false}, "axis": null},
  "shape": {"field": "d", "type": "nominal", "scale": {"domain": ["0.05 µg","0.5 µg","5 µg","Mock"], "range": ["circle","triangle-down","diamond","square"]}, "legend": null},
  "fill": {"condition": {"test": "datum.c", "value": "white"}, "value": "black"}}},
{"data": {"name": "b1p"}, "transform": [{"filter": "datum.g === 'Mock'"}], "mark": {"type": "point", "filled": true, "stroke": "black", "strokeWidth": 1, "size": 27, "opacity": 1, "xOffset": -8.5},
 "encoding": {"x": {"field": "g", "type": "nominal", "scale": {"domain": ["S-3P","HexaPro","1","2","S-locked","Mock"], "range": [11.3, 280.3], "paddingInner": 0.325, "paddingOuter": 0}, "axis": null},
  "y": {"field": "v", "type": "quantitative", "scale": {"type": "log", "domain": [10, 10000], "nice": false}, "axis": null},
  "shape": {"field": "d", "type": "nominal", "scale": {"domain": ["0.05 µg","0.5 µg","5 µg","Mock"], "range": ["circle","triangle-down","diamond","square"]}, "legend": null},
  "fill": {"value": "white"}}},
{"data": {"name": "b1pm"}, "transform": [{"filter": "datum.d === '0.5 µg'"}], "mark": {"type": "tick", "orient": "horizontal", "color": "#e8262b", "thickness": 3, "size": 13, "opacity": 1, "xOffset": -8},
 "encoding": {"x": {"field": "g", "type": "nominal", "scale": {"domain": ["S-3P","HexaPro","1","2","S-locked","Mock"], "range": [11.3, 280.3], "paddingInner": 0.325, "paddingOuter": 0}, "axis": null},
  "y": {"field": "v", "type": "quantitative", "scale": {"type": "log", "domain": [10, 10000], "nice": false}, "axis": null}}},
{"data": {"name": "b1pm"}, "transform": [{"filter": "datum.d === '5 µg'"}], "mark": {"type": "tick", "orient": "horizontal", "color": "#e8262b", "thickness": 3, "size": 13, "opacity": 1, "xOffset": 8},
 "encoding": {"x": {"field": "g", "type": "nominal", "scale": {"domain": ["S-3P","HexaPro","1","2","S-locked","Mock"], "range": [11.3, 280.3], "paddingInner": 0.325, "paddingOuter": 0}, "axis": null},
  "y": {"field": "v", "type": "quantitative", "scale": {"type": "log", "domain": [10, 10000], "nice": false}, "axis": null}}},
{"data": {"name": "b1pm"}, "transform": [{"filter": "datum.g === 'Mock'"}], "mark": {"type": "tick", "orient": "horizontal", "color": "#e8262b", "thickness": 3, "size": 13, "opacity": 1, "xOffset": -8.5},
 "encoding": {"x": {"field": "g", "type": "nominal", "scale": {"domain": ["S-3P","HexaPro","1","2","S-locked","Mock"], "range": [11.3, 280.3], "paddingInner": 0.325, "paddingOuter": 0}, "axis": null},
  "y": {"field": "v", "type": "quantitative", "scale": {"type": "log", "domain": [10, 10000], "nice": false}, "axis": null}}},
{"data": {"name": "mk"}, "mark": {"type": "text", "align": "left", "baseline": "middle", "fontSize": 12, "dx": 3, "color": "black"},
 "encoding": {"x": {"field": "g", "type": "nominal", "scale": {"domain": ["S-3P","HexaPro","1","2","S-locked","Mock"], "range": [11.3, 280.3], "paddingInner": 0.325, "paddingOuter": 0}, "axis": null},
  "y": {"datum": 20, "type": "quantitative", "scale": {"type": "log", "domain": [10, 10000], "nice": false}, "axis": null}, "text": {"value": "LLOD"}}},
{"data": {"name": "g5"}, "mark": {"type": "tick", "orient": "horizontal", "color": "#333", "thickness": 1.2, "size": 16, "opacity": 1},
 "encoding": {"x": {"field": "g", "type": "nominal", "scale": {"domain": ["S-3P","HexaPro","1","2","S-locked","Mock"], "range": [11.3, 280.3], "paddingInner": 0.325, "paddingOuter": 0}, "axis": null},
  "y": {"datum": 0, "type": "quantitative", "scale": {"domain": [-14,-13,-12,-11,-1,0,1,2,3,4], "range": [177.3,162.6,150,140,-6,-10.7,-17.4,-28.4,-42.4,-55.7], "nice": false, "zero": true}, "axis": null}}},
{"data": {"name": "g5"}, "mark": {"type": "tick", "orient": "vertical", "color": "#333", "thickness": 1.2, "size": 4.7, "opacity": 1, "xOffset": -8},
 "encoding": {"x": {"field": "g", "type": "nominal", "scale": {"domain": ["S-3P","HexaPro","1","2","S-locked","Mock"], "range": [11.3, 280.3], "paddingInner": 0.325, "paddingOuter": 0}, "axis": null},
  "y": {"datum": -0.5, "type": "quantitative", "scale": {"domain": [-14,-13,-12,-11,-1,0,1,2,3,4], "range": [177.3,162.6,150,140,-6,-10.7,-17.4,-28.4,-42.4,-55.7], "nice": false, "zero": true}, "axis": null}}},
{"data": {"name": "g5"}, "mark": {"type": "tick", "orient": "vertical", "color": "#333", "thickness": 1.2, "size": 4.7, "opacity": 1, "xOffset": 8},
 "encoding": {"x": {"field": "g", "type": "nominal", "scale": {"domain": ["S-3P","HexaPro","1","2","S-locked","Mock"], "range": [11.3, 280.3], "paddingInner": 0.325, "paddingOuter": 0}, "axis": null},
  "y": {"datum": -0.5, "type": "quantitative", "scale": {"domain": [-14,-13,-12,-11,-1,0,1,2,3,4], "range": [177.3,162.6,150,140,-6,-10.7,-17.4,-28.4,-42.4,-55.7], "nice": false, "zero": true}, "axis": null}}},
{"data": {"name": "g5"}, "mark": {"type": "tick", "orient": "horizontal", "color": "#8c8c8c", "thickness": 1.6, "size": 30, "opacity": 1},
 "encoding": {"x": {"field": "g", "type": "nominal", "scale": {"domain": ["S-3P","HexaPro","1","2","S-locked","Mock"], "range": [11.3, 280.3], "paddingInner": 0.325, "paddingOuter": 0}, "axis": null},
  "y": {"datum": -11, "type": "quantitative", "scale": {"domain": [-14,-13,-12,-11,-1,0,1,2,3,4], "range": [177.3,162.6,150,140,-6,-10.7,-17.4,-28.4,-42.4,-55.7], "nice": false, "zero": true}, "axis": null}}},
{"data": {"name": "mk"}, "mark": {"type": "tick", "orient": "horizontal", "color": "#8c8c8c", "thickness": 1.6, "size": 17, "opacity": 1, "xOffset": -8.5},
 "encoding": {"x": {"field": "g", "type": "nominal", "scale": {"domain": ["S-3P","HexaPro","1","2","S-locked","Mock"], "range": [11.3, 280.3], "paddingInner": 0.325, "paddingOuter": 0}, "axis": null},
  "y": {"datum": -11, "type": "quantitative", "scale": {"domain": [-14,-13,-12,-11,-1,0,1,2,3,4], "range": [177.3,162.6,150,140,-6,-10.7,-17.4,-28.4,-42.4,-55.7], "nice": false, "zero": true}, "axis": null}}},
{"data": {"name": "g5"}, "mark": {"type": "text", "fontSize": 12, "fontWeight": "bold", "baseline": "middle"},
 "encoding": {"x": {"field": "g", "type": "nominal", "scale": {"domain": ["S-3P","HexaPro","1","2","S-locked","Mock"], "range": [11.3, 280.3], "paddingInner": 0.325, "paddingOuter": 0}, "axis": null},
  "y": {"datum": -12, "type": "quantitative", "scale": {"domain": [-14,-13,-12,-11,-1,0,1,2,3,4], "range": [177.3,162.6,150,140,-6,-10.7,-17.4,-28.4,-42.4,-55.7], "nice": false, "zero": true}, "axis": null},
  "text": {"field": "g"},
  "color": {"field": "g", "type": "nominal", "scale": {"domain": ["S-3P","HexaPro","1","2","S-locked"], "range": ["#000000","#9d57b4","#3aa84a","#f28a21","#3b5bb5"]}, "legend": null}}},
{"data": {"name": "mk"}, "mark": {"type": "text", "fontSize": 12, "baseline": "middle", "color": "black", "xOffset": -8.5},
 "encoding": {"x": {"field": "g", "type": "nominal", "scale": {"domain": ["S-3P","HexaPro","1","2","S-locked","Mock"], "range": [11.3, 280.3], "paddingInner": 0.325, "paddingOuter": 0}, "axis": null},
  "y": {"datum": -13, "type": "quantitative", "scale": {"domain": [-14,-13,-12,-11,-1,0,1,2,3,4], "range": [177.3,162.6,150,140,-6,-10.7,-17.4,-28.4,-42.4,-55.7], "nice": false, "zero": true}, "axis": null},
  "text": {"field": "g"}}},
{"data": {"name": "c_b1"}, "mark": {"type": "rule", "color": "#333", "strokeWidth": 1.2},
 "encoding": {"x": {"field": "a", "type": "quantitative", "scale": {"domain": [0, 4], "range": [27.3, 216.9], "nice": false, "zero": false}, "axis": null}, "x2": {"field": "b"},
  "y": {"field": "l", "type": "quantitative", "scale": {"domain": [-14,-13,-12,-11,-1,0,1,2,3,4], "range": [177.3,162.6,150,140,-6,-10.7,-17.4,-28.4,-42.4,-55.7], "nice": false, "zero": true}, "axis": null}}},
{"data": {"name": "c_b1"}, "transform": [{"fold": ["a","b"], "as": ["k","gi"]}], "mark": {"type": "bar", "color": "#333", "size": 1.2},
 "encoding": {"x": {"field": "gi", "type": "quantitative", "scale": {"domain": [0, 4], "range": [27.3, 216.9], "nice": false, "zero": false}, "axis": null},
  "y": {"field": "l", "type": "quantitative", "stack": null, "scale": {"domain": [-14,-13,-12,-11,-1,0,1,2,3,4], "range": [177.3,162.6,150,140,-6,-10.7,-17.4,-28.4,-42.4,-55.7], "nice": false, "zero": true}, "axis": null}}},
{"data": {"name": "c_b1"}, "transform": [{"fold": ["a","b"], "as": ["k","gi"]}, {"aggregate": [{"op": "mean", "field": "gi", "as": "m"}], "groupby": ["l","s"]}], "mark": {"type": "text", "fontSize": 10, "baseline": "alphabetic", "dy": -1, "color": "black"},
 "encoding": {"x": {"field": "m", "type": "quantitative", "scale": {"domain": [0, 4], "range": [27.3, 216.9], "nice": false, "zero": false}, "axis": null},
  "y": {"field": "l", "type": "quantitative", "scale": {"domain": [-14,-13,-12,-11,-1,0,1,2,3,4], "range": [177.3,162.6,150,140,-6,-10.7,-17.4,-28.4,-42.4,-55.7], "nice": false, "zero": true}, "axis": null}, "text": {"field": "s"}}},
{"data": {"name": "sc"}, "transform": [{"fold": ["a","b"], "as": ["k","gi"]}, {"aggregate": [{"op": "mean", "field": "gi", "as": "m"}], "groupby": ["s"]}], "mark": {"type": "tick", "orient": "horizontal", "size": 80, "thickness": 1.3, "color": "#555", "opacity": 1},
 "encoding": {"x": {"field": "m", "type": "quantitative", "scale": {"domain": [0, 4], "range": [27.3, 216.9], "nice": false, "zero": false}, "axis": null},
  "y": {"datum": -13, "type": "quantitative", "scale": {"domain": [-14,-13,-12,-11,-1,0,1,2,3,4], "range": [177.3,162.6,150,140,-6,-10.7,-17.4,-28.4,-42.4,-55.7], "nice": false, "zero": true}, "axis": null}}},
{"data": {"name": "sc"}, "transform": [{"fold": ["a","b"], "as": ["k","gi"]}, {"aggregate": [{"op": "mean", "field": "gi", "as": "m"}], "groupby": ["s"]}], "mark": {"type": "text", "fontSize": 11.5, "baseline": "middle", "color": "black"},
 "encoding": {"x": {"field": "m", "type": "quantitative", "scale": {"domain": [0, 4], "range": [27.3, 216.9], "nice": false, "zero": false}, "axis": null},
  "y": {"datum": -14, "type": "quantitative", "scale": {"domain": [-14,-13,-12,-11,-1,0,1,2,3,4], "range": [177.3,162.6,150,140,-6,-10.7,-17.4,-28.4,-42.4,-55.7], "nice": false, "zero": true}, "axis": null}, "text": {"field": "s"}}}
]
}
]
},
{
"bounds": "flush",
"spacing": 240.7,
"vconcat": [
{
"title": {"text": "B.1.351", "orient": "left", "anchor": "end", "frame": "group", "fontSize": 17, "fontWeight": "bold", "offset": 1},
"bounds": "flush", "spacing": 81,
"hconcat": [
{
"width": 265, "height": 134,
"resolve": {"scale": {"x": "independent", "y": "independent"}},
"layer": [
{"data": {"values": [{}]}, "mark": {"type": "rule", "strokeDash": [1.5, 2.5], "strokeWidth": 1.3, "color": "black"}, "encoding": {"y": {"datum": 1458, "type": "quantitative", "scale": {"type": "log", "domain": [4.2, 2000], "nice": false}, "axis": null}}},
{"data": {"values": [{}]}, "mark": {"type": "rule", "strokeDash": [1.5, 2.5], "strokeWidth": 1.3, "color": "black"}, "encoding": {"y": {"datum": 6, "type": "quantitative", "scale": {"type": "log", "domain": [4.2, 2000], "nice": false}, "axis": null}}},
{"data": {"name": "b3l"}, "transform": [{"filter": "datum.d === '0.5 µg'"}], "mark": {"type": "point", "filled": true, "stroke": "black", "strokeWidth": 1, "size": 27, "opacity": 1, "xOffset": -8},
 "encoding": {"x": {"field": "g", "type": "nominal", "scale": {"domain": ["S-3P","HexaPro","1","2","S-locked","Mock"], "range": [11.3, 280.3], "paddingInner": 0.325, "paddingOuter": 0}, "axis": null},
  "y": {"field": "v", "type": "quantitative", "scale": {"type": "log", "domain": [4.2, 2000], "nice": false}, "axis": {"orient": "left", "title": "Reciprocal titer", "values": [5,6,7,8,9,10,20,30,40,50,60,70,80,90,100,200,300,400,500,600,700,800,900,1000,2000], "format": "d", "labelExpr": "indexof([10,100,1000,10000], datum.value) >= 0 ? datum.label : ''", "tickSize": 3.5, "grid": false, "labelFlush": false, "labelOverlap": false, "domainColor": "black", "tickColor": "black", "labelColor": "black", "titleColor": "black", "labelFontSize": 11.5, "titleFontSize": 12, "titleFontWeight": "normal", "labelPadding": 1, "titlePadding": 0}},
  "shape": {"field": "d", "type": "nominal", "scale": {"domain": ["0.05 µg","0.5 µg","5 µg","Mock"], "range": ["circle","triangle-down","diamond","square"]}, "legend": null},
  "fill": {"condition": {"test": "datum.c", "value": "white"}, "value": "black"}}},
{"data": {"name": "b3l"}, "transform": [{"filter": "datum.d === '5 µg'"}], "mark": {"type": "point", "filled": true, "stroke": "black", "strokeWidth": 1, "size": 27, "opacity": 1, "xOffset": 8},
 "encoding": {"x": {"field": "g", "type": "nominal", "scale": {"domain": ["S-3P","HexaPro","1","2","S-locked","Mock"], "range": [11.3, 280.3], "paddingInner": 0.325, "paddingOuter": 0}, "axis": null},
  "y": {"field": "v", "type": "quantitative", "scale": {"type": "log", "domain": [4.2, 2000], "nice": false}, "axis": null},
  "shape": {"field": "d", "type": "nominal", "scale": {"domain": ["0.05 µg","0.5 µg","5 µg","Mock"], "range": ["circle","triangle-down","diamond","square"]}, "legend": null},
  "fill": {"condition": {"test": "datum.c", "value": "white"}, "value": "black"}}},
{"data": {"name": "b3l"}, "transform": [{"filter": "datum.g === 'Mock'"}], "mark": {"type": "point", "filled": true, "stroke": "black", "strokeWidth": 1, "size": 27, "opacity": 1, "xOffset": -8.5},
 "encoding": {"x": {"field": "g", "type": "nominal", "scale": {"domain": ["S-3P","HexaPro","1","2","S-locked","Mock"], "range": [11.3, 280.3], "paddingInner": 0.325, "paddingOuter": 0}, "axis": null},
  "y": {"field": "v", "type": "quantitative", "scale": {"type": "log", "domain": [4.2, 2000], "nice": false}, "axis": null},
  "shape": {"field": "d", "type": "nominal", "scale": {"domain": ["0.05 µg","0.5 µg","5 µg","Mock"], "range": ["circle","triangle-down","diamond","square"]}, "legend": null},
  "fill": {"value": "white"}}},
{"data": {"name": "b3lm"}, "transform": [{"filter": "datum.d === '0.5 µg'"}], "mark": {"type": "tick", "orient": "horizontal", "color": "#e8262b", "thickness": 3, "size": 13, "opacity": 1, "xOffset": -8},
 "encoding": {"x": {"field": "g", "type": "nominal", "scale": {"domain": ["S-3P","HexaPro","1","2","S-locked","Mock"], "range": [11.3, 280.3], "paddingInner": 0.325, "paddingOuter": 0}, "axis": null},
  "y": {"field": "v", "type": "quantitative", "scale": {"type": "log", "domain": [4.2, 2000], "nice": false}, "axis": null}}},
{"data": {"name": "b3lm"}, "transform": [{"filter": "datum.d === '5 µg'"}], "mark": {"type": "tick", "orient": "horizontal", "color": "#e8262b", "thickness": 3, "size": 13, "opacity": 1, "xOffset": 8},
 "encoding": {"x": {"field": "g", "type": "nominal", "scale": {"domain": ["S-3P","HexaPro","1","2","S-locked","Mock"], "range": [11.3, 280.3], "paddingInner": 0.325, "paddingOuter": 0}, "axis": null},
  "y": {"field": "v", "type": "quantitative", "scale": {"type": "log", "domain": [4.2, 2000], "nice": false}, "axis": null}}},
{"data": {"name": "b3lm"}, "transform": [{"filter": "datum.g === 'Mock'"}], "mark": {"type": "tick", "orient": "horizontal", "color": "#e8262b", "thickness": 3, "size": 13, "opacity": 1, "xOffset": -8.5},
 "encoding": {"x": {"field": "g", "type": "nominal", "scale": {"domain": ["S-3P","HexaPro","1","2","S-locked","Mock"], "range": [11.3, 280.3], "paddingInner": 0.325, "paddingOuter": 0}, "axis": null},
  "y": {"field": "v", "type": "quantitative", "scale": {"type": "log", "domain": [4.2, 2000], "nice": false}, "axis": null}}},
{"data": {"name": "g5"}, "mark": {"type": "tick", "orient": "horizontal", "color": "#333", "thickness": 1.2, "size": 16, "opacity": 1},
 "encoding": {"x": {"field": "g", "type": "nominal", "scale": {"domain": ["S-3P","HexaPro","1","2","S-locked","Mock"], "range": [11.3, 280.3], "paddingInner": 0.325, "paddingOuter": 0}, "axis": null},
  "y": {"datum": 0, "type": "quantitative", "scale": {"domain": [-14,-13,-12,-11,-1,0,1,2,3,4], "range": [176.7,163.4,150,140,3,-3.5,-9,-20,-33.3,-46.7], "nice": false, "zero": true}, "axis": null}}},
{"data": {"name": "g5"}, "mark": {"type": "tick", "orient": "vertical", "color": "#333", "thickness": 1.2, "size": 6.5, "opacity": 1, "xOffset": -8},
 "encoding": {"x": {"field": "g", "type": "nominal", "scale": {"domain": ["S-3P","HexaPro","1","2","S-locked","Mock"], "range": [11.3, 280.3], "paddingInner": 0.325, "paddingOuter": 0}, "axis": null},
  "y": {"datum": -0.5, "type": "quantitative", "scale": {"domain": [-14,-13,-12,-11,-1,0,1,2,3,4], "range": [176.7,163.4,150,140,3,-3.5,-9,-20,-33.3,-46.7], "nice": false, "zero": true}, "axis": null}}},
{"data": {"name": "g5"}, "mark": {"type": "tick", "orient": "vertical", "color": "#333", "thickness": 1.2, "size": 6.5, "opacity": 1, "xOffset": 8},
 "encoding": {"x": {"field": "g", "type": "nominal", "scale": {"domain": ["S-3P","HexaPro","1","2","S-locked","Mock"], "range": [11.3, 280.3], "paddingInner": 0.325, "paddingOuter": 0}, "axis": null},
  "y": {"datum": -0.5, "type": "quantitative", "scale": {"domain": [-14,-13,-12,-11,-1,0,1,2,3,4], "range": [176.7,163.4,150,140,3,-3.5,-9,-20,-33.3,-46.7], "nice": false, "zero": true}, "axis": null}}},
{"data": {"name": "g5"}, "mark": {"type": "tick", "orient": "horizontal", "color": "#8c8c8c", "thickness": 1.6, "size": 32, "opacity": 1},
 "encoding": {"x": {"field": "g", "type": "nominal", "scale": {"domain": ["S-3P","HexaPro","1","2","S-locked","Mock"], "range": [11.3, 280.3], "paddingInner": 0.325, "paddingOuter": 0}, "axis": null},
  "y": {"datum": -11, "type": "quantitative", "scale": {"domain": [-14,-13,-12,-11,-1,0,1,2,3,4], "range": [176.7,163.4,150,140,3,-3.5,-9,-20,-33.3,-46.7], "nice": false, "zero": true}, "axis": null}}},
{"data": {"name": "mk"}, "mark": {"type": "tick", "orient": "horizontal", "color": "#8c8c8c", "thickness": 1.6, "size": 17, "opacity": 1, "xOffset": -8.5},
 "encoding": {"x": {"field": "g", "type": "nominal", "scale": {"domain": ["S-3P","HexaPro","1","2","S-locked","Mock"], "range": [11.3, 280.3], "paddingInner": 0.325, "paddingOuter": 0}, "axis": null},
  "y": {"datum": -11, "type": "quantitative", "scale": {"domain": [-14,-13,-12,-11,-1,0,1,2,3,4], "range": [176.7,163.4,150,140,3,-3.5,-9,-20,-33.3,-46.7], "nice": false, "zero": true}, "axis": null}}},
{"data": {"name": "g5"}, "mark": {"type": "text", "fontSize": 12, "fontWeight": "bold", "baseline": "middle"},
 "encoding": {"x": {"field": "g", "type": "nominal", "scale": {"domain": ["S-3P","HexaPro","1","2","S-locked","Mock"], "range": [11.3, 280.3], "paddingInner": 0.325, "paddingOuter": 0}, "axis": null},
  "y": {"datum": -12, "type": "quantitative", "scale": {"domain": [-14,-13,-12,-11,-1,0,1,2,3,4], "range": [176.7,163.4,150,140,3,-3.5,-9,-20,-33.3,-46.7], "nice": false, "zero": true}, "axis": null},
  "text": {"field": "g"},
  "color": {"field": "g", "type": "nominal", "scale": {"domain": ["S-3P","HexaPro","1","2","S-locked"], "range": ["#000000","#9d57b4","#3aa84a","#f28a21","#3b5bb5"]}, "legend": null}}},
{"data": {"name": "mk"}, "mark": {"type": "text", "fontSize": 12, "baseline": "middle", "color": "black", "xOffset": -8.5},
 "encoding": {"x": {"field": "g", "type": "nominal", "scale": {"domain": ["S-3P","HexaPro","1","2","S-locked","Mock"], "range": [11.3, 280.3], "paddingInner": 0.325, "paddingOuter": 0}, "axis": null},
  "y": {"datum": -13, "type": "quantitative", "scale": {"domain": [-14,-13,-12,-11,-1,0,1,2,3,4], "range": [176.7,163.4,150,140,3,-3.5,-9,-20,-33.3,-46.7], "nice": false, "zero": true}, "axis": null},
  "text": {"field": "g"}}},
{"data": {"name": "c_b3l"}, "mark": {"type": "rule", "color": "#333", "strokeWidth": 1.2},
 "encoding": {"x": {"field": "a", "type": "quantitative", "scale": {"domain": [0, 4], "range": [27.3, 216.9], "nice": false, "zero": false}, "axis": null}, "x2": {"field": "b"},
  "y": {"field": "l", "type": "quantitative", "scale": {"domain": [-14,-13,-12,-11,-1,0,1,2,3,4], "range": [176.7,163.4,150,140,3,-3.5,-9,-20,-33.3,-46.7], "nice": false, "zero": true}, "axis": null}}},
{"data": {"name": "c_b3l"}, "transform": [{"fold": ["a","b"], "as": ["k","gi"]}], "mark": {"type": "bar", "color": "#333", "size": 1.2},
 "encoding": {"x": {"field": "gi", "type": "quantitative", "scale": {"domain": [0, 4], "range": [27.3, 216.9], "nice": false, "zero": false}, "axis": null},
  "y": {"field": "l", "type": "quantitative", "stack": null, "scale": {"domain": [-14,-13,-12,-11,-1,0,1,2,3,4], "range": [176.7,163.4,150,140,3,-3.5,-9,-20,-33.3,-46.7], "nice": false, "zero": true}, "axis": null}}},
{"data": {"name": "c_b3l"}, "transform": [{"fold": ["a","b"], "as": ["k","gi"]}, {"aggregate": [{"op": "mean", "field": "gi", "as": "m"}], "groupby": ["l","s"]}], "mark": {"type": "text", "fontSize": 10, "baseline": "alphabetic", "dy": -1, "color": "black"},
 "encoding": {"x": {"field": "m", "type": "quantitative", "scale": {"domain": [0, 4], "range": [27.3, 216.9], "nice": false, "zero": false}, "axis": null},
  "y": {"field": "l", "type": "quantitative", "scale": {"domain": [-14,-13,-12,-11,-1,0,1,2,3,4], "range": [176.7,163.4,150,140,3,-3.5,-9,-20,-33.3,-46.7], "nice": false, "zero": true}, "axis": null}, "text": {"field": "s"}}},
{"data": {"name": "sc"}, "transform": [{"fold": ["a","b"], "as": ["k","gi"]}, {"aggregate": [{"op": "mean", "field": "gi", "as": "m"}], "groupby": ["s"]}], "mark": {"type": "tick", "orient": "horizontal", "size": 80, "thickness": 1.3, "color": "#555", "opacity": 1},
 "encoding": {"x": {"field": "m", "type": "quantitative", "scale": {"domain": [0, 4], "range": [27.3, 216.9], "nice": false, "zero": false}, "axis": null},
  "y": {"datum": -13, "type": "quantitative", "scale": {"domain": [-14,-13,-12,-11,-1,0,1,2,3,4], "range": [176.7,163.4,150,140,3,-3.5,-9,-20,-33.3,-46.7], "nice": false, "zero": true}, "axis": null}}},
{"data": {"name": "sc"}, "transform": [{"fold": ["a","b"], "as": ["k","gi"]}, {"aggregate": [{"op": "mean", "field": "gi", "as": "m"}], "groupby": ["s"]}], "mark": {"type": "text", "fontSize": 11.5, "baseline": "middle", "color": "black"},
 "encoding": {"x": {"field": "m", "type": "quantitative", "scale": {"domain": [0, 4], "range": [27.3, 216.9], "nice": false, "zero": false}, "axis": null},
  "y": {"datum": -14, "type": "quantitative", "scale": {"domain": [-14,-13,-12,-11,-1,0,1,2,3,4], "range": [176.7,163.4,150,140,3,-3.5,-9,-20,-33.3,-46.7], "nice": false, "zero": true}, "axis": null}, "text": {"field": "s"}}}
]
},
{
"width": 265, "height": 128,
"resolve": {"scale": {"x": "independent", "y": "independent"}},
"layer": [
{"data": {"values": [{}]}, "mark": {"type": "rule", "strokeDash": [1.5, 2.5], "strokeWidth": 1.3, "color": "black"}, "encoding": {"y": {"datum": 20, "type": "quantitative", "scale": {"type": "log", "domain": [10, 10000], "nice": false}, "axis": null}}},
{"data": {"name": "b3p"}, "transform": [{"filter": "datum.d === '0.5 µg'"}], "mark": {"type": "point", "filled": true, "stroke": "black", "strokeWidth": 1, "size": 27, "opacity": 1, "xOffset": -8},
 "encoding": {"x": {"field": "g", "type": "nominal", "scale": {"domain": ["S-3P","HexaPro","1","2","S-locked","Mock"], "range": [11.3, 280.3], "paddingInner": 0.325, "paddingOuter": 0}, "axis": null},
  "y": {"field": "v", "type": "quantitative", "scale": {"type": "log", "domain": [10, 10000], "nice": false}, "axis": {"orient": "left", "title": "Neutralization titer (N₅₀)", "values": [10,20,30,40,50,60,70,80,90,100,200,300,400,500,600,700,800,900,1000,2000,3000,4000,5000,6000,7000,8000,9000,10000], "format": "d", "labelExpr": "indexof([10,100,1000,10000], datum.value) >= 0 ? datum.label : ''", "tickSize": 3.5, "grid": false, "labelFlush": false, "labelOverlap": false, "domainColor": "black", "tickColor": "black", "labelColor": "black", "titleColor": "black", "labelFontSize": 11.5, "titleFontSize": 12, "titleFontWeight": "normal", "labelPadding": 1, "titlePadding": 4}},
  "shape": {"field": "d", "type": "nominal", "scale": {"domain": ["0.05 µg","0.5 µg","5 µg","Mock"], "range": ["circle","triangle-down","diamond","square"]}, "legend": null},
  "fill": {"condition": {"test": "datum.c", "value": "white"}, "value": "black"}}},
{"data": {"name": "b3p"}, "transform": [{"filter": "datum.d === '5 µg'"}], "mark": {"type": "point", "filled": true, "stroke": "black", "strokeWidth": 1, "size": 27, "opacity": 1, "xOffset": 8},
 "encoding": {"x": {"field": "g", "type": "nominal", "scale": {"domain": ["S-3P","HexaPro","1","2","S-locked","Mock"], "range": [11.3, 280.3], "paddingInner": 0.325, "paddingOuter": 0}, "axis": null},
  "y": {"field": "v", "type": "quantitative", "scale": {"type": "log", "domain": [10, 10000], "nice": false}, "axis": null},
  "shape": {"field": "d", "type": "nominal", "scale": {"domain": ["0.05 µg","0.5 µg","5 µg","Mock"], "range": ["circle","triangle-down","diamond","square"]}, "legend": null},
  "fill": {"condition": {"test": "datum.c", "value": "white"}, "value": "black"}}},
{"data": {"name": "b3p"}, "transform": [{"filter": "datum.g === 'Mock'"}], "mark": {"type": "point", "filled": true, "stroke": "black", "strokeWidth": 1, "size": 27, "opacity": 1, "xOffset": -8.5},
 "encoding": {"x": {"field": "g", "type": "nominal", "scale": {"domain": ["S-3P","HexaPro","1","2","S-locked","Mock"], "range": [11.3, 280.3], "paddingInner": 0.325, "paddingOuter": 0}, "axis": null},
  "y": {"field": "v", "type": "quantitative", "scale": {"type": "log", "domain": [10, 10000], "nice": false}, "axis": null},
  "shape": {"field": "d", "type": "nominal", "scale": {"domain": ["0.05 µg","0.5 µg","5 µg","Mock"], "range": ["circle","triangle-down","diamond","square"]}, "legend": null},
  "fill": {"value": "white"}}},
{"data": {"name": "b3pm"}, "transform": [{"filter": "datum.d === '0.5 µg'"}], "mark": {"type": "tick", "orient": "horizontal", "color": "#e8262b", "thickness": 3, "size": 13, "opacity": 1, "xOffset": -8},
 "encoding": {"x": {"field": "g", "type": "nominal", "scale": {"domain": ["S-3P","HexaPro","1","2","S-locked","Mock"], "range": [11.3, 280.3], "paddingInner": 0.325, "paddingOuter": 0}, "axis": null},
  "y": {"field": "v", "type": "quantitative", "scale": {"type": "log", "domain": [10, 10000], "nice": false}, "axis": null}}},
{"data": {"name": "b3pm"}, "transform": [{"filter": "datum.d === '5 µg'"}], "mark": {"type": "tick", "orient": "horizontal", "color": "#e8262b", "thickness": 3, "size": 13, "opacity": 1, "xOffset": 8},
 "encoding": {"x": {"field": "g", "type": "nominal", "scale": {"domain": ["S-3P","HexaPro","1","2","S-locked","Mock"], "range": [11.3, 280.3], "paddingInner": 0.325, "paddingOuter": 0}, "axis": null},
  "y": {"field": "v", "type": "quantitative", "scale": {"type": "log", "domain": [10, 10000], "nice": false}, "axis": null}}},
{"data": {"name": "b3pm"}, "transform": [{"filter": "datum.g === 'Mock'"}], "mark": {"type": "tick", "orient": "horizontal", "color": "#e8262b", "thickness": 3, "size": 13, "opacity": 1, "xOffset": -8.5},
 "encoding": {"x": {"field": "g", "type": "nominal", "scale": {"domain": ["S-3P","HexaPro","1","2","S-locked","Mock"], "range": [11.3, 280.3], "paddingInner": 0.325, "paddingOuter": 0}, "axis": null},
  "y": {"field": "v", "type": "quantitative", "scale": {"type": "log", "domain": [10, 10000], "nice": false}, "axis": null}}},
{"data": {"name": "mk"}, "mark": {"type": "text", "align": "left", "baseline": "middle", "fontSize": 12, "dx": 3, "color": "black"},
 "encoding": {"x": {"field": "g", "type": "nominal", "scale": {"domain": ["S-3P","HexaPro","1","2","S-locked","Mock"], "range": [11.3, 280.3], "paddingInner": 0.325, "paddingOuter": 0}, "axis": null},
  "y": {"datum": 20, "type": "quantitative", "scale": {"type": "log", "domain": [10, 10000], "nice": false}, "axis": null}, "text": {"value": "LLOD"}}},
{"data": {"name": "g5"}, "mark": {"type": "tick", "orient": "horizontal", "color": "#333", "thickness": 1.2, "size": 16, "opacity": 1},
 "encoding": {"x": {"field": "g", "type": "nominal", "scale": {"domain": ["S-3P","HexaPro","1","2","S-locked","Mock"], "range": [11.3, 280.3], "paddingInner": 0.325, "paddingOuter": 0}, "axis": null},
  "y": {"datum": 0, "type": "quantitative", "scale": {"domain": [-14,-13,-12,-11,-1,0,1,2,3,4], "range": [175.7,162.4,149,138.4,-6.6,-12,-19.3,-24.3,-36,-50.3], "nice": false, "zero": true}, "axis": null}}},
{"data": {"name": "g5"}, "mark": {"type": "tick", "orient": "vertical", "color": "#333", "thickness": 1.2, "size": 5.4, "opacity": 1, "xOffset": -8},
 "encoding": {"x": {"field": "g", "type": "nominal", "scale": {"domain": ["S-3P","HexaPro","1","2","S-locked","Mock"], "range": [11.3, 280.3], "paddingInner": 0.325, "paddingOuter": 0}, "axis": null},
  "y": {"datum": -0.5, "type": "quantitative", "scale": {"domain": [-14,-13,-12,-11,-1,0,1,2,3,4], "range": [175.7,162.4,149,138.4,-6.6,-12,-19.3,-24.3,-36,-50.3], "nice": false, "zero": true}, "axis": null}}},
{"data": {"name": "g5"}, "mark": {"type": "tick", "orient": "vertical", "color": "#333", "thickness": 1.2, "size": 5.4, "opacity": 1, "xOffset": 8},
 "encoding": {"x": {"field": "g", "type": "nominal", "scale": {"domain": ["S-3P","HexaPro","1","2","S-locked","Mock"], "range": [11.3, 280.3], "paddingInner": 0.325, "paddingOuter": 0}, "axis": null},
  "y": {"datum": -0.5, "type": "quantitative", "scale": {"domain": [-14,-13,-12,-11,-1,0,1,2,3,4], "range": [175.7,162.4,149,138.4,-6.6,-12,-19.3,-24.3,-36,-50.3], "nice": false, "zero": true}, "axis": null}}},
{"data": {"name": "g5"}, "mark": {"type": "tick", "orient": "horizontal", "color": "#8c8c8c", "thickness": 1.6, "size": 30, "opacity": 1},
 "encoding": {"x": {"field": "g", "type": "nominal", "scale": {"domain": ["S-3P","HexaPro","1","2","S-locked","Mock"], "range": [11.3, 280.3], "paddingInner": 0.325, "paddingOuter": 0}, "axis": null},
  "y": {"datum": -11, "type": "quantitative", "scale": {"domain": [-14,-13,-12,-11,-1,0,1,2,3,4], "range": [175.7,162.4,149,138.4,-6.6,-12,-19.3,-24.3,-36,-50.3], "nice": false, "zero": true}, "axis": null}}},
{"data": {"name": "mk"}, "mark": {"type": "tick", "orient": "horizontal", "color": "#8c8c8c", "thickness": 1.6, "size": 17, "opacity": 1, "xOffset": -8.5},
 "encoding": {"x": {"field": "g", "type": "nominal", "scale": {"domain": ["S-3P","HexaPro","1","2","S-locked","Mock"], "range": [11.3, 280.3], "paddingInner": 0.325, "paddingOuter": 0}, "axis": null},
  "y": {"datum": -11, "type": "quantitative", "scale": {"domain": [-14,-13,-12,-11,-1,0,1,2,3,4], "range": [175.7,162.4,149,138.4,-6.6,-12,-19.3,-24.3,-36,-50.3], "nice": false, "zero": true}, "axis": null}}},
{"data": {"name": "g5"}, "mark": {"type": "text", "fontSize": 12, "fontWeight": "bold", "baseline": "middle"},
 "encoding": {"x": {"field": "g", "type": "nominal", "scale": {"domain": ["S-3P","HexaPro","1","2","S-locked","Mock"], "range": [11.3, 280.3], "paddingInner": 0.325, "paddingOuter": 0}, "axis": null},
  "y": {"datum": -12, "type": "quantitative", "scale": {"domain": [-14,-13,-12,-11,-1,0,1,2,3,4], "range": [175.7,162.4,149,138.4,-6.6,-12,-19.3,-24.3,-36,-50.3], "nice": false, "zero": true}, "axis": null},
  "text": {"field": "g"},
  "color": {"field": "g", "type": "nominal", "scale": {"domain": ["S-3P","HexaPro","1","2","S-locked"], "range": ["#000000","#9d57b4","#3aa84a","#f28a21","#3b5bb5"]}, "legend": null}}},
{"data": {"name": "mk"}, "mark": {"type": "text", "fontSize": 12, "baseline": "middle", "color": "black", "xOffset": -8.5},
 "encoding": {"x": {"field": "g", "type": "nominal", "scale": {"domain": ["S-3P","HexaPro","1","2","S-locked","Mock"], "range": [11.3, 280.3], "paddingInner": 0.325, "paddingOuter": 0}, "axis": null},
  "y": {"datum": -13, "type": "quantitative", "scale": {"domain": [-14,-13,-12,-11,-1,0,1,2,3,4], "range": [175.7,162.4,149,138.4,-6.6,-12,-19.3,-24.3,-36,-50.3], "nice": false, "zero": true}, "axis": null},
  "text": {"field": "g"}}},
{"data": {"name": "c_b3p"}, "mark": {"type": "rule", "color": "#333", "strokeWidth": 1.2},
 "encoding": {"x": {"field": "a", "type": "quantitative", "scale": {"domain": [0, 4], "range": [27.3, 216.9], "nice": false, "zero": false}, "axis": null}, "x2": {"field": "b"},
  "y": {"field": "l", "type": "quantitative", "scale": {"domain": [-14,-13,-12,-11,-1,0,1,2,3,4], "range": [175.7,162.4,149,138.4,-6.6,-12,-19.3,-24.3,-36,-50.3], "nice": false, "zero": true}, "axis": null}}},
{"data": {"name": "c_b3p"}, "transform": [{"fold": ["a","b"], "as": ["k","gi"]}], "mark": {"type": "bar", "color": "#333", "size": 1.2},
 "encoding": {"x": {"field": "gi", "type": "quantitative", "scale": {"domain": [0, 4], "range": [27.3, 216.9], "nice": false, "zero": false}, "axis": null},
  "y": {"field": "l", "type": "quantitative", "stack": null, "scale": {"domain": [-14,-13,-12,-11,-1,0,1,2,3,4], "range": [175.7,162.4,149,138.4,-6.6,-12,-19.3,-24.3,-36,-50.3], "nice": false, "zero": true}, "axis": null}}},
{"data": {"name": "c_b3p"}, "transform": [{"fold": ["a","b"], "as": ["k","gi"]}, {"aggregate": [{"op": "mean", "field": "gi", "as": "m"}], "groupby": ["l","s"]}], "mark": {"type": "text", "fontSize": 10, "baseline": "alphabetic", "dy": -1, "color": "black"},
 "encoding": {"x": {"field": "m", "type": "quantitative", "scale": {"domain": [0, 4], "range": [27.3, 216.9], "nice": false, "zero": false}, "axis": null},
  "y": {"field": "l", "type": "quantitative", "scale": {"domain": [-14,-13,-12,-11,-1,0,1,2,3,4], "range": [175.7,162.4,149,138.4,-6.6,-12,-19.3,-24.3,-36,-50.3], "nice": false, "zero": true}, "axis": null}, "text": {"field": "s"}}},
{"data": {"name": "sc"}, "transform": [{"fold": ["a","b"], "as": ["k","gi"]}, {"aggregate": [{"op": "mean", "field": "gi", "as": "m"}], "groupby": ["s"]}], "mark": {"type": "tick", "orient": "horizontal", "size": 80, "thickness": 1.3, "color": "#555", "opacity": 1},
 "encoding": {"x": {"field": "m", "type": "quantitative", "scale": {"domain": [0, 4], "range": [27.3, 216.9], "nice": false, "zero": false}, "axis": null},
  "y": {"datum": -13, "type": "quantitative", "scale": {"domain": [-14,-13,-12,-11,-1,0,1,2,3,4], "range": [175.7,162.4,149,138.4,-6.6,-12,-19.3,-24.3,-36,-50.3], "nice": false, "zero": true}, "axis": null}}},
{"data": {"name": "sc"}, "transform": [{"fold": ["a","b"], "as": ["k","gi"]}, {"aggregate": [{"op": "mean", "field": "gi", "as": "m"}], "groupby": ["s"]}], "mark": {"type": "text", "fontSize": 11.5, "baseline": "middle", "color": "black"},
 "encoding": {"x": {"field": "m", "type": "quantitative", "scale": {"domain": [0, 4], "range": [27.3, 216.9], "nice": false, "zero": false}, "axis": null},
  "y": {"datum": -14, "type": "quantitative", "scale": {"domain": [-14,-13,-12,-11,-1,0,1,2,3,4], "range": [175.7,162.4,149,138.4,-6.6,-12,-19.3,-24.3,-36,-50.3], "nice": false, "zero": true}, "axis": null}, "text": {"field": "s"}}}
]
}
]
},
{
"title": {"text": "BA.1", "orient": "left", "anchor": "middle", "frame": "bounds", "fontSize": 17, "fontWeight": "bold", "offset": 45, "dx": 18},
"bounds": "flush", "spacing": 102,
"hconcat": [
{
"width": 244, "height": 108,
"data": {"values": [{"d": "0.05 µg"}, {"d": "0.5 µg"}, {"d": "5 µg"}, {"d": "Mock"}]},
"layer": [
{"mark": {"type": "point", "filled": true, "stroke": "black", "strokeWidth": 1.4, "size": 40, "opacity": 1},
 "encoding": {"y": {"field": "d", "type": "nominal", "scale": {"type": "point", "domain": ["0.05 µg","0.5 µg","5 µg","Mock"], "padding": 0.95}, "axis": null},
  "shape": {"field": "d", "type": "nominal", "scale": {"domain": ["0.05 µg","0.5 µg","5 µg","Mock"], "range": ["circle","triangle-down","diamond","square"]}, "legend": null},
  "fill": {"condition": {"test": "datum.d === 'Mock'", "value": "white"}, "value": "black"}}},
{"mark": {"type": "text", "align": "left", "baseline": "middle", "fontSize": 12, "dx": 24, "color": "black"},
 "encoding": {"y": {"field": "d", "type": "nominal", "scale": {"type": "point", "domain": ["0.05 µg","0.5 µg","5 µg","Mock"], "padding": 0.95}, "axis": null},
  "text": {"field": "d"}}}
]
},
{
"width": 265, "height": 128,
"resolve": {"scale": {"x": "independent", "y": "independent"}},
"layer": [
{"data": {"values": [{}]}, "mark": {"type": "rule", "strokeDash": [1.5, 2.5], "strokeWidth": 1.3, "color": "black"}, "encoding": {"y": {"datum": 20, "type": "quantitative", "scale": {"type": "log", "domain": [10, 10000], "nice": false}, "axis": null}}},
{"data": {"name": "ba1"}, "transform": [{"filter": "datum.d === '0.5 µg'"}], "mark": {"type": "point", "filled": true, "stroke": "black", "strokeWidth": 1, "size": 27, "opacity": 1, "xOffset": -8},
 "encoding": {"x": {"field": "g", "type": "nominal", "scale": {"domain": ["S-3P","HexaPro","1","2","S-locked","Mock"], "range": [11.3, 280.3], "paddingInner": 0.325, "paddingOuter": 0}, "axis": null},
  "y": {"field": "v", "type": "quantitative", "scale": {"type": "log", "domain": [10, 10000], "nice": false}, "axis": {"orient": "left", "title": "Neutralization titer (N₅₀)", "values": [10,20,30,40,50,60,70,80,90,100,200,300,400,500,600,700,800,900,1000,2000,3000,4000,5000,6000,7000,8000,9000,10000], "format": "d", "labelExpr": "indexof([10,100,1000,10000], datum.value) >= 0 ? datum.label : ''", "tickSize": 3.5, "grid": false, "labelFlush": false, "labelOverlap": false, "domainColor": "black", "tickColor": "black", "labelColor": "black", "titleColor": "black", "labelFontSize": 11.5, "titleFontSize": 12, "titleFontWeight": "normal", "labelPadding": 1, "titlePadding": 4}},
  "shape": {"field": "d", "type": "nominal", "scale": {"domain": ["0.05 µg","0.5 µg","5 µg","Mock"], "range": ["circle","triangle-down","diamond","square"]}, "legend": null},
  "fill": {"condition": {"test": "datum.c", "value": "white"}, "value": "black"}}},
{"data": {"name": "ba1"}, "transform": [{"filter": "datum.d === '5 µg'"}], "mark": {"type": "point", "filled": true, "stroke": "black", "strokeWidth": 1, "size": 27, "opacity": 1, "xOffset": 8},
 "encoding": {"x": {"field": "g", "type": "nominal", "scale": {"domain": ["S-3P","HexaPro","1","2","S-locked","Mock"], "range": [11.3, 280.3], "paddingInner": 0.325, "paddingOuter": 0}, "axis": null},
  "y": {"field": "v", "type": "quantitative", "scale": {"type": "log", "domain": [10, 10000], "nice": false}, "axis": null},
  "shape": {"field": "d", "type": "nominal", "scale": {"domain": ["0.05 µg","0.5 µg","5 µg","Mock"], "range": ["circle","triangle-down","diamond","square"]}, "legend": null},
  "fill": {"condition": {"test": "datum.c", "value": "white"}, "value": "black"}}},
{"data": {"name": "ba1"}, "transform": [{"filter": "datum.g === 'Mock'"}], "mark": {"type": "point", "filled": true, "stroke": "black", "strokeWidth": 1, "size": 27, "opacity": 1, "xOffset": -8.5},
 "encoding": {"x": {"field": "g", "type": "nominal", "scale": {"domain": ["S-3P","HexaPro","1","2","S-locked","Mock"], "range": [11.3, 280.3], "paddingInner": 0.325, "paddingOuter": 0}, "axis": null},
  "y": {"field": "v", "type": "quantitative", "scale": {"type": "log", "domain": [10, 10000], "nice": false}, "axis": null},
  "shape": {"field": "d", "type": "nominal", "scale": {"domain": ["0.05 µg","0.5 µg","5 µg","Mock"], "range": ["circle","triangle-down","diamond","square"]}, "legend": null},
  "fill": {"value": "white"}}},
{"data": {"name": "ba1m"}, "transform": [{"filter": "datum.d === '0.5 µg'"}], "mark": {"type": "tick", "orient": "horizontal", "color": "#e8262b", "thickness": 3, "size": 13, "opacity": 1, "xOffset": -8},
 "encoding": {"x": {"field": "g", "type": "nominal", "scale": {"domain": ["S-3P","HexaPro","1","2","S-locked","Mock"], "range": [11.3, 280.3], "paddingInner": 0.325, "paddingOuter": 0}, "axis": null},
  "y": {"field": "v", "type": "quantitative", "scale": {"type": "log", "domain": [10, 10000], "nice": false}, "axis": null}}},
{"data": {"name": "ba1m"}, "transform": [{"filter": "datum.d === '5 µg'"}], "mark": {"type": "tick", "orient": "horizontal", "color": "#e8262b", "thickness": 3, "size": 13, "opacity": 1, "xOffset": 8},
 "encoding": {"x": {"field": "g", "type": "nominal", "scale": {"domain": ["S-3P","HexaPro","1","2","S-locked","Mock"], "range": [11.3, 280.3], "paddingInner": 0.325, "paddingOuter": 0}, "axis": null},
  "y": {"field": "v", "type": "quantitative", "scale": {"type": "log", "domain": [10, 10000], "nice": false}, "axis": null}}},
{"data": {"name": "ba1m"}, "transform": [{"filter": "datum.g === 'Mock'"}], "mark": {"type": "tick", "orient": "horizontal", "color": "#e8262b", "thickness": 3, "size": 13, "opacity": 1, "xOffset": -8.5},
 "encoding": {"x": {"field": "g", "type": "nominal", "scale": {"domain": ["S-3P","HexaPro","1","2","S-locked","Mock"], "range": [11.3, 280.3], "paddingInner": 0.325, "paddingOuter": 0}, "axis": null},
  "y": {"field": "v", "type": "quantitative", "scale": {"type": "log", "domain": [10, 10000], "nice": false}, "axis": null}}},
{"data": {"name": "mk"}, "mark": {"type": "text", "align": "left", "baseline": "middle", "fontSize": 12, "dx": 3, "color": "black"},
 "encoding": {"x": {"field": "g", "type": "nominal", "scale": {"domain": ["S-3P","HexaPro","1","2","S-locked","Mock"], "range": [11.3, 280.3], "paddingInner": 0.325, "paddingOuter": 0}, "axis": null},
  "y": {"datum": 20, "type": "quantitative", "scale": {"type": "log", "domain": [10, 10000], "nice": false}, "axis": null}, "text": {"value": "LLOD"}}},
{"data": {"name": "g2"}, "mark": {"type": "tick", "orient": "horizontal", "color": "#333", "thickness": 1.2, "size": 16, "opacity": 1},
 "encoding": {"x": {"field": "g", "type": "nominal", "scale": {"domain": ["S-3P","HexaPro","1","2","S-locked","Mock"], "range": [11.3, 280.3], "paddingInner": 0.325, "paddingOuter": 0}, "axis": null},
  "y": {"datum": 0, "type": "quantitative", "scale": {"domain": [-14,-13,-12,-11,-1,0,1,2,3,4], "range": [169,160.3,148.7,138.3,5,0,-7.3,-18,-29,-40], "nice": false, "zero": true}, "axis": null}}},
{"data": {"name": "g2"}, "mark": {"type": "tick", "orient": "vertical", "color": "#333", "thickness": 1.2, "size": 5, "opacity": 1, "xOffset": -8},
 "encoding": {"x": {"field": "g", "type": "nominal", "scale": {"domain": ["S-3P","HexaPro","1","2","S-locked","Mock"], "range": [11.3, 280.3], "paddingInner": 0.325, "paddingOuter": 0}, "axis": null},
  "y": {"datum": -0.5, "type": "quantitative", "scale": {"domain": [-14,-13,-12,-11,-1,0,1,2,3,4], "range": [169,160.3,148.7,138.3,5,0,-7.3,-18,-29,-40], "nice": false, "zero": true}, "axis": null}}},
{"data": {"name": "g2"}, "mark": {"type": "tick", "orient": "vertical", "color": "#333", "thickness": 1.2, "size": 5, "opacity": 1, "xOffset": 8},
 "encoding": {"x": {"field": "g", "type": "nominal", "scale": {"domain": ["S-3P","HexaPro","1","2","S-locked","Mock"], "range": [11.3, 280.3], "paddingInner": 0.325, "paddingOuter": 0}, "axis": null},
  "y": {"datum": -0.5, "type": "quantitative", "scale": {"domain": [-14,-13,-12,-11,-1,0,1,2,3,4], "range": [169,160.3,148.7,138.3,5,0,-7.3,-18,-29,-40], "nice": false, "zero": true}, "axis": null}}},
{"data": {"name": "g5"}, "mark": {"type": "tick", "orient": "horizontal", "color": "#8c8c8c", "thickness": 1.6, "size": 30, "opacity": 1},
 "encoding": {"x": {"field": "g", "type": "nominal", "scale": {"domain": ["S-3P","HexaPro","1","2","S-locked","Mock"], "range": [11.3, 280.3], "paddingInner": 0.325, "paddingOuter": 0}, "axis": null},
  "y": {"datum": -11, "type": "quantitative", "scale": {"domain": [-14,-13,-12,-11,-1,0,1,2,3,4], "range": [169,160.3,148.7,138.3,5,0,-7.3,-18,-29,-40], "nice": false, "zero": true}, "axis": null}}},
{"data": {"name": "mk"}, "mark": {"type": "tick", "orient": "horizontal", "color": "#8c8c8c", "thickness": 1.6, "size": 17, "opacity": 1, "xOffset": -8.5},
 "encoding": {"x": {"field": "g", "type": "nominal", "scale": {"domain": ["S-3P","HexaPro","1","2","S-locked","Mock"], "range": [11.3, 280.3], "paddingInner": 0.325, "paddingOuter": 0}, "axis": null},
  "y": {"datum": -11, "type": "quantitative", "scale": {"domain": [-14,-13,-12,-11,-1,0,1,2,3,4], "range": [169,160.3,148.7,138.3,5,0,-7.3,-18,-29,-40], "nice": false, "zero": true}, "axis": null}}},
{"data": {"name": "g5"}, "mark": {"type": "text", "fontSize": 12, "fontWeight": "bold", "baseline": "middle"},
 "encoding": {"x": {"field": "g", "type": "nominal", "scale": {"domain": ["S-3P","HexaPro","1","2","S-locked","Mock"], "range": [11.3, 280.3], "paddingInner": 0.325, "paddingOuter": 0}, "axis": null},
  "y": {"datum": -12, "type": "quantitative", "scale": {"domain": [-14,-13,-12,-11,-1,0,1,2,3,4], "range": [169,160.3,148.7,138.3,5,0,-7.3,-18,-29,-40], "nice": false, "zero": true}, "axis": null},
  "text": {"field": "g"},
  "color": {"field": "g", "type": "nominal", "scale": {"domain": ["S-3P","HexaPro","1","2","S-locked"], "range": ["#000000","#9d57b4","#3aa84a","#f28a21","#3b5bb5"]}, "legend": null}}},
{"data": {"name": "mk"}, "mark": {"type": "text", "fontSize": 12, "baseline": "middle", "color": "black", "xOffset": -8.5},
 "encoding": {"x": {"field": "g", "type": "nominal", "scale": {"domain": ["S-3P","HexaPro","1","2","S-locked","Mock"], "range": [11.3, 280.3], "paddingInner": 0.325, "paddingOuter": 0}, "axis": null},
  "y": {"datum": -13, "type": "quantitative", "scale": {"domain": [-14,-13,-12,-11,-1,0,1,2,3,4], "range": [169,160.3,148.7,138.3,5,0,-7.3,-18,-29,-40], "nice": false, "zero": true}, "axis": null},
  "text": {"field": "g"}}},
{"data": {"name": "c_ba1"}, "mark": {"type": "rule", "color": "#333", "strokeWidth": 1.2},
 "encoding": {"x": {"field": "a", "type": "quantitative", "scale": {"domain": [0, 4], "range": [27.3, 216.9], "nice": false, "zero": false}, "axis": null}, "x2": {"field": "b"},
  "y": {"field": "l", "type": "quantitative", "scale": {"domain": [-14,-13,-12,-11,-1,0,1,2,3,4], "range": [169,160.3,148.7,138.3,5,0,-7.3,-18,-29,-40], "nice": false, "zero": true}, "axis": null}}},
{"data": {"name": "c_ba1"}, "transform": [{"fold": ["a","b"], "as": ["k","gi"]}], "mark": {"type": "bar", "color": "#333", "size": 1.2},
 "encoding": {"x": {"field": "gi", "type": "quantitative", "scale": {"domain": [0, 4], "range": [27.3, 216.9], "nice": false, "zero": false}, "axis": null},
  "y": {"field": "l", "type": "quantitative", "stack": null, "scale": {"domain": [-14,-13,-12,-11,-1,0,1,2,3,4], "range": [169,160.3,148.7,138.3,5,0,-7.3,-18,-29,-40], "nice": false, "zero": true}, "axis": null}}},
{"data": {"name": "c_ba1"}, "transform": [{"fold": ["a","b"], "as": ["k","gi"]}, {"aggregate": [{"op": "mean", "field": "gi", "as": "m"}], "groupby": ["l","s"]}], "mark": {"type": "text", "fontSize": 10, "baseline": "alphabetic", "dy": -1, "color": "black"},
 "encoding": {"x": {"field": "m", "type": "quantitative", "scale": {"domain": [0, 4], "range": [27.3, 216.9], "nice": false, "zero": false}, "axis": null},
  "y": {"field": "l", "type": "quantitative", "scale": {"domain": [-14,-13,-12,-11,-1,0,1,2,3,4], "range": [169,160.3,148.7,138.3,5,0,-7.3,-18,-29,-40], "nice": false, "zero": true}, "axis": null}, "text": {"field": "s"}}},
{"data": {"name": "sc"}, "transform": [{"fold": ["a","b"], "as": ["k","gi"]}, {"aggregate": [{"op": "mean", "field": "gi", "as": "m"}], "groupby": ["s"]}], "mark": {"type": "tick", "orient": "horizontal", "size": 80, "thickness": 1.3, "color": "#555", "opacity": 1},
 "encoding": {"x": {"field": "m", "type": "quantitative", "scale": {"domain": [0, 4], "range": [27.3, 216.9], "nice": false, "zero": false}, "axis": null},
  "y": {"datum": -13, "type": "quantitative", "scale": {"domain": [-14,-13,-12,-11,-1,0,1,2,3,4], "range": [169,160.3,148.7,138.3,5,0,-7.3,-18,-29,-40], "nice": false, "zero": true}, "axis": null}}},
{"data": {"name": "sc"}, "transform": [{"fold": ["a","b"], "as": ["k","gi"]}, {"aggregate": [{"op": "mean", "field": "gi", "as": "m"}], "groupby": ["s"]}], "mark": {"type": "text", "fontSize": 11.5, "baseline": "middle", "color": "black"},
 "encoding": {"x": {"field": "m", "type": "quantitative", "scale": {"domain": [0, 4], "range": [27.3, 216.9], "nice": false, "zero": false}, "axis": null},
  "y": {"datum": -14, "type": "quantitative", "scale": {"domain": [-14,-13,-12,-11,-1,0,1,2,3,4], "range": [169,160.3,148.7,138.3,5,0,-7.3,-18,-29,-40], "nice": false, "zero": true}, "axis": null}, "text": {"field": "s"}}}
]
}
]
}
]
}
]
}
